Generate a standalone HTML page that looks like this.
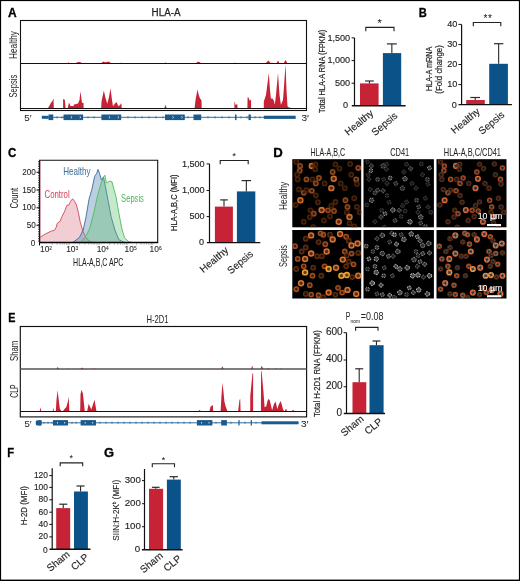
<!DOCTYPE html>
<html><head><meta charset="utf-8"><style>
html,body{margin:0;padding:0;background:#fff;}
svg{display:block;font-family:"Liberation Sans",sans-serif;will-change:transform;}
</style></head><body>
<svg width="520" height="581" viewBox="0 0 520 581">
<rect width="520" height="581" fill="#fff"/>
<text x="8.10" y="16.60" font-size="12.0" text-anchor="start" fill="#000" font-weight="bold" textLength="8.66" lengthAdjust="spacingAndGlyphs" stroke="#000" stroke-width="0.3" >A</text>
<text x="151.60" y="16.10" font-size="10.0" text-anchor="start" fill="#231f20" textLength="29.0" lengthAdjust="spacingAndGlyphs" stroke="#231f20" stroke-width="0.25" >HLA-A</text>
<polygon points="48.10,108.00 51.00,102.70 52.50,101.00 53.50,98.30 53.80,108.00" fill="#c72336" />
<polygon points="63.10,108.00 63.10,99.00 64.80,99.80 65.60,108.00 67.70,108.00 68.80,103.30 69.50,103.50 70.50,106.00 73.50,106.00 74.00,104.40 78.00,103.50 79.50,100.00 80.40,91.20 81.20,97.00 82.00,102.70 83.60,103.00 83.60,108.00" fill="#c72336" />
<polygon points="101.20,108.00 101.50,101.50 103.80,90.60 105.50,98.00 107.30,103.80 108.80,98.00 110.50,88.30 112.00,100.00 113.00,106.20 114.50,104.00 116.50,102.10 118.30,106.20 120.00,105.00 121.40,103.30 121.70,108.00" fill="#c72336" />
<polygon points="164.60,108.00 165.20,104.40 166.60,108.00" fill="#c72336" />
<polygon points="194.60,108.00 195.50,100.00 197.50,89.40 198.50,94.00 199.80,98.00 201.50,100.40 201.70,108.00" fill="#c72336" />
<polygon points="234.40,108.00 234.40,101.00 235.60,105.00 237.30,103.90 237.50,108.00" fill="#c72336" />
<polygon points="247.40,108.00 247.60,97.30 248.50,97.50 249.80,100.80 251.00,99.50 251.10,108.00" fill="#c72336" />
<polygon points="263.80,108.00 263.80,101.60 266.00,95.00 268.80,73.00 270.00,90.00 270.90,98.40 272.50,98.40 274.00,101.00 274.80,104.70 276.00,95.00 278.00,73.00 279.50,95.00 280.90,104.70 283.00,100.00 285.60,64.30 286.50,90.00 287.50,106.30 289.00,107.50 291.50,108.00" fill="#c72336" />
<polygon points="67.50,63.50 68.50,62.30 70.00,63.50" fill="#c72336" />
<polygon points="75.80,63.50 77.00,62.20 79.00,62.00 80.50,62.30 82.70,63.50" fill="#c72336" />
<polygon points="101.20,63.50 103.00,61.60 105.00,62.20 107.00,62.00 109.00,61.60 111.30,63.50" fill="#c72336" />
<polygon points="120.60,63.50 121.20,62.20 121.70,63.50" fill="#c72336" />
<polygon points="164.80,63.50 165.40,62.00 166.00,63.50" fill="#c72336" />
<polygon points="195.80,63.50 197.50,61.80 199.50,62.00 201.50,63.50" fill="#c72336" />
<polygon points="234.40,63.50 235.00,62.00 235.60,63.50" fill="#c72336" />
<polygon points="265.30,63.50 268.50,60.40 270.90,63.50 272.00,62.60 273.50,63.50" fill="#c72336" />
<polygon points="276.40,63.50 278.00,60.40 279.60,63.50 281.00,62.80 283.50,63.50" fill="#c72336" />
<polygon points="283.50,63.50 285.60,60.00 287.50,63.50" fill="#c72336" />
<rect x="20.5" y="20.5" width="286.0" height="90.0" fill="none" stroke="#111" stroke-width="1.1"/>
<line x1="20.5" y1="63.5" x2="306.5" y2="63.5" stroke="#111" stroke-width="1.0"/>
<line x1="20.5" y1="108.5" x2="306.5" y2="108.5" stroke="#111" stroke-width="1.0"/>
<text x="16.60" y="59.00" font-size="11" text-anchor="start" fill="#231f20" textLength="28.0" lengthAdjust="spacingAndGlyphs" transform="rotate(-90 16.60 59.00)" >Healthy</text>
<text x="16.60" y="97.40" font-size="11" text-anchor="start" fill="#231f20" textLength="22.6" lengthAdjust="spacingAndGlyphs" transform="rotate(-90 16.60 97.40)" >Sepsis</text>
<line x1="42" y1="117.3" x2="295.6" y2="117.3" stroke="#1b5a8c" stroke-width="0.9"/>
<line x1="57" y1="116.0" x2="57" y2="118.6" stroke="#1b5a8c" stroke-width="0.6"/>
<line x1="62" y1="116.0" x2="62" y2="118.6" stroke="#1b5a8c" stroke-width="0.6"/>
<line x1="88" y1="116.0" x2="88" y2="118.6" stroke="#1b5a8c" stroke-width="0.6"/>
<line x1="94" y1="116.0" x2="94" y2="118.6" stroke="#1b5a8c" stroke-width="0.6"/>
<line x1="128" y1="116.0" x2="128" y2="118.6" stroke="#1b5a8c" stroke-width="0.6"/>
<line x1="135" y1="116.0" x2="135" y2="118.6" stroke="#1b5a8c" stroke-width="0.6"/>
<line x1="142" y1="116.0" x2="142" y2="118.6" stroke="#1b5a8c" stroke-width="0.6"/>
<line x1="149" y1="116.0" x2="149" y2="118.6" stroke="#1b5a8c" stroke-width="0.6"/>
<line x1="156" y1="116.0" x2="156" y2="118.6" stroke="#1b5a8c" stroke-width="0.6"/>
<line x1="163" y1="116.0" x2="163" y2="118.6" stroke="#1b5a8c" stroke-width="0.6"/>
<line x1="188" y1="116.0" x2="188" y2="118.6" stroke="#1b5a8c" stroke-width="0.6"/>
<line x1="208" y1="116.0" x2="208" y2="118.6" stroke="#1b5a8c" stroke-width="0.6"/>
<line x1="215" y1="116.0" x2="215" y2="118.6" stroke="#1b5a8c" stroke-width="0.6"/>
<line x1="222" y1="116.0" x2="222" y2="118.6" stroke="#1b5a8c" stroke-width="0.6"/>
<line x1="229" y1="116.0" x2="229" y2="118.6" stroke="#1b5a8c" stroke-width="0.6"/>
<line x1="241" y1="116.0" x2="241" y2="118.6" stroke="#1b5a8c" stroke-width="0.6"/>
<line x1="247" y1="116.0" x2="247" y2="118.6" stroke="#1b5a8c" stroke-width="0.6"/>
<line x1="255" y1="116.0" x2="255" y2="118.6" stroke="#1b5a8c" stroke-width="0.6"/>
<line x1="260" y1="116.0" x2="260" y2="118.6" stroke="#1b5a8c" stroke-width="0.6"/>
<rect x="41.80" y="115.80" width="6.70" height="3.00" fill="#1b5a8c" />
<rect x="48.50" y="114.50" width="4.80" height="5.60" fill="#1b5a8c" />
<rect x="63.50" y="114.50" width="19.60" height="5.60" fill="#1b5a8c" />
<rect x="101.40" y="114.50" width="19.80" height="5.60" fill="#1b5a8c" />
<rect x="165.00" y="114.50" width="19.80" height="5.60" fill="#1b5a8c" />
<rect x="193.50" y="114.50" width="7.70" height="5.60" fill="#1b5a8c" />
<rect x="248.50" y="114.50" width="2.30" height="5.60" fill="#1b5a8c" />
<rect x="235.00" y="114.50" width="1.50" height="5.60" fill="#1b5a8c" />
<rect x="263.80" y="115.70" width="31.80" height="3.20" fill="#1b5a8c" />
<polyline points="70.836,116.3 72.036,117.3 70.836,118.3" fill="none" stroke="#fff" stroke-width="0.7"/>
<polyline points="79.65599999999999,116.3 80.856,117.3 79.65599999999999,118.3" fill="none" stroke="#fff" stroke-width="0.7"/>
<polyline points="108.818,116.3 110.018,117.3 108.818,118.3" fill="none" stroke="#fff" stroke-width="0.7"/>
<polyline points="117.728,116.3 118.928,117.3 117.728,118.3" fill="none" stroke="#fff" stroke-width="0.7"/>
<polyline points="172.418,116.3 173.618,117.3 172.418,118.3" fill="none" stroke="#fff" stroke-width="0.7"/>
<polyline points="181.32800000000003,116.3 182.52800000000002,117.3 181.32800000000003,118.3" fill="none" stroke="#fff" stroke-width="0.7"/>
<text x="24.20" y="120.90" font-size="9.4" text-anchor="start" fill="#231f20" textLength="7.3" lengthAdjust="spacingAndGlyphs" stroke="#231f20" stroke-width="0.05" >5&#8242;</text>
<text x="301.50" y="120.90" font-size="9.4" text-anchor="start" fill="#231f20" textLength="7.5" lengthAdjust="spacingAndGlyphs" stroke="#231f20" stroke-width="0.05" >3&#8242;</text>
<line x1="354.5" y1="37.9" x2="354.5" y2="105.7" stroke="#111" stroke-width="1.2"/>
<line x1="351.6" y1="37.9" x2="354.5" y2="37.9" stroke="#111" stroke-width="1.0"/>
<text x="350.20" y="40.50" font-size="9.6" text-anchor="end" fill="#231f20" textLength="22.82" lengthAdjust="spacingAndGlyphs" stroke="#231f20" stroke-width="0.15" >1,500</text>
<line x1="351.6" y1="60.6" x2="354.5" y2="60.6" stroke="#111" stroke-width="1.0"/>
<text x="350.20" y="63.20" font-size="9.6" text-anchor="end" fill="#231f20" textLength="22.82" lengthAdjust="spacingAndGlyphs" stroke="#231f20" stroke-width="0.15" >1,000</text>
<line x1="351.6" y1="83.2" x2="354.5" y2="83.2" stroke="#111" stroke-width="1.0"/>
<text x="350.20" y="85.80" font-size="9.6" text-anchor="end" fill="#231f20" textLength="15.22" lengthAdjust="spacingAndGlyphs" stroke="#231f20" stroke-width="0.15" >500</text>
<text x="348.00" y="108.00" font-size="9.6" text-anchor="end" fill="#231f20" textLength="5.07" lengthAdjust="spacingAndGlyphs" stroke="#231f20" stroke-width="0.15" >0</text>
<rect x="360.00" y="83.40" width="18.60" height="22.30" fill="#c72336" />
<line x1="369.45000000000005" y1="83.4" x2="369.45000000000005" y2="81.0" stroke="#2a2a2a" stroke-width="1.1"/>
<line x1="365.1" y1="81.0" x2="373.8" y2="81.0" stroke="#2a2a2a" stroke-width="1.2"/>
<rect x="382.90" y="53.10" width="18.30" height="52.60" fill="#0a5287" />
<line x1="391.85" y1="53.1" x2="391.85" y2="43.9" stroke="#2a2a2a" stroke-width="1.1"/>
<line x1="386.9" y1="43.9" x2="396.8" y2="43.9" stroke="#2a2a2a" stroke-width="1.2"/>
<line x1="351.8" y1="105.7" x2="405.6" y2="105.7" stroke="#111" stroke-width="1.4"/>
<polyline points="365.8,31.2 365.8,27.4 394,27.4 394,31.2" fill="none" stroke="#222" stroke-width="1.1"/>
<text x="379.80" y="26.75" font-size="11.2" text-anchor="middle" fill="#111" >*</text>
<text x="324.50" y="113.00" font-size="8.7" text-anchor="start" fill="#231f20" textLength="83.3" lengthAdjust="spacingAndGlyphs" transform="rotate(-90 324.50 113.00)" stroke="#231f20" stroke-width="0.2" >Total HLA-A RNA (FPKM)</text>
<text x="348.20" y="136.00" font-size="10.0" text-anchor="start" fill="#231f20" transform="rotate(-40 348.20 136.00)" stroke="#231f20" stroke-width="0.15" >Healthy</text>
<text x="375.10" y="136.20" font-size="10.0" text-anchor="start" fill="#231f20" transform="rotate(-40 375.10 136.20)" stroke="#231f20" stroke-width="0.15" >Sepsis</text>
<text x="418.65" y="16.70" font-size="12.0" text-anchor="start" fill="#000" font-weight="bold" textLength="8.06" lengthAdjust="spacingAndGlyphs" stroke="#000" stroke-width="0.3" >B</text>
<line x1="461.6" y1="24.4" x2="461.6" y2="104.6" stroke="#111" stroke-width="1.2"/>
<line x1="458.4" y1="24.4" x2="461.6" y2="24.4" stroke="#111" stroke-width="1.0"/>
<text x="457.30" y="27.00" font-size="9.6" text-anchor="end" fill="#231f20" textLength="10.14" lengthAdjust="spacingAndGlyphs" stroke="#231f20" stroke-width="0.15" >40</text>
<line x1="458.4" y1="44.6" x2="461.6" y2="44.6" stroke="#111" stroke-width="1.0"/>
<text x="457.30" y="47.20" font-size="9.6" text-anchor="end" fill="#231f20" textLength="10.14" lengthAdjust="spacingAndGlyphs" stroke="#231f20" stroke-width="0.15" >30</text>
<line x1="458.4" y1="64.5" x2="461.6" y2="64.5" stroke="#111" stroke-width="1.0"/>
<text x="457.30" y="67.10" font-size="9.6" text-anchor="end" fill="#231f20" textLength="10.14" lengthAdjust="spacingAndGlyphs" stroke="#231f20" stroke-width="0.15" >20</text>
<line x1="458.4" y1="84.6" x2="461.6" y2="84.6" stroke="#111" stroke-width="1.0"/>
<text x="457.30" y="87.20" font-size="9.6" text-anchor="end" fill="#231f20" textLength="10.14" lengthAdjust="spacingAndGlyphs" stroke="#231f20" stroke-width="0.15" >10</text>
<text x="456.90" y="108.40" font-size="9.6" text-anchor="end" fill="#231f20" textLength="5.07" lengthAdjust="spacingAndGlyphs" stroke="#231f20" stroke-width="0.15" >0</text>
<rect x="466.20" y="100.00" width="18.60" height="4.60" fill="#c72336" />
<line x1="475.2" y1="100.0" x2="475.2" y2="97.5" stroke="#2a2a2a" stroke-width="1.1"/>
<line x1="470.4" y1="97.5" x2="480.0" y2="97.5" stroke="#2a2a2a" stroke-width="1.2"/>
<rect x="489.20" y="63.80" width="18.70" height="40.80" fill="#0a5287" />
<line x1="498.65" y1="63.8" x2="498.65" y2="43.7" stroke="#2a2a2a" stroke-width="1.1"/>
<line x1="494.0" y1="43.7" x2="503.3" y2="43.7" stroke="#2a2a2a" stroke-width="1.2"/>
<line x1="458.5" y1="104.6" x2="511.9" y2="104.6" stroke="#111" stroke-width="1.4"/>
<polyline points="473.3,26.3 473.3,22.5 500.8,22.5 500.8,26.3" fill="none" stroke="#222" stroke-width="1.1"/>
<text x="485.40" y="21.93" font-size="10" text-anchor="middle" fill="#111" >*</text>
<text x="489.90" y="21.93" font-size="10" text-anchor="middle" fill="#111" >*</text>
<text x="432.40" y="91.10" font-size="8.9" text-anchor="start" fill="#231f20" textLength="44.4" lengthAdjust="spacingAndGlyphs" transform="rotate(-90 432.40 91.10)" stroke="#231f20" stroke-width="0.2" >HLA-A mRNA</text>
<text x="441.90" y="93.70" font-size="8.9" text-anchor="start" fill="#231f20" textLength="48.5" lengthAdjust="spacingAndGlyphs" transform="rotate(-90 441.90 93.70)" stroke="#231f20" stroke-width="0.2" >(Fold change)</text>
<text x="454.60" y="134.30" font-size="10.0" text-anchor="start" fill="#231f20" transform="rotate(-40 454.60 134.30)" stroke="#231f20" stroke-width="0.15" >Healthy</text>
<text x="482.10" y="135.00" font-size="10.0" text-anchor="start" fill="#231f20" transform="rotate(-40 482.10 135.00)" stroke="#231f20" stroke-width="0.15" >Sepsis</text>
<text x="7.93" y="157.00" font-size="12.0" text-anchor="start" fill="#000" font-weight="bold" textLength="8.32" lengthAdjust="spacingAndGlyphs" stroke="#000" stroke-width="0.3" >C</text>
<polygon points="39.5,242.6 39.5,237.7 45.7,233.8 51.5,231 54.3,230.4 56.3,227.1 57.2,223.3 60.1,221.3 62,216.5 64.9,210.8 66.8,205.4 68.8,205 70.7,201.2 72.6,198.8 74.5,201.2 76.5,205 78.4,212.7 80.3,222.3 83.2,231.9 86.1,237.7 89.9,241.5 93.8,242.6" fill="#e8a5b0" fill-opacity="0.55" stroke="#d2455e" stroke-width="0.9"/>
<polygon points="72.6,242.6 79.3,237.7 83.2,230 86.1,216.5 89,199.2 91.8,189.6 94.7,176.2 96.7,173.3 98,169.4 99.5,173.3 101.5,180 103.4,177.1 105.3,185.8 108.2,201.2 111.1,216.5 114.9,230 118.8,239.6 124.5,242.6" fill="#6b92b8" fill-opacity="0.45" stroke="#3a6d9c" stroke-width="0.9"/>
<polygon points="80.3,242.6 86.1,235.8 89.9,228.1 93.8,212.7 97.6,195.4 101.5,181.9 103.4,177.1 104.9,175.2 106.3,182.9 108.2,181.9 110.1,181 112,181.9 114,189.6 115.9,196.3 118.8,212.7 121.7,228.1 124.5,237.7 128.4,241.5 132.2,242.6" fill="#5cbf6e" fill-opacity="0.35" stroke="#4cbb5c" stroke-width="0.9"/>
<line x1="40.4" y1="161" x2="40.4" y2="242.6" stroke="#e68a9a" stroke-width="0.6"/>
<polyline points="39.6,242.6 39.6,160.2 157.7,160.2 157.7,242.6" fill="none" stroke="#111" stroke-width="1.1"/>
<line x1="39.5" y1="242.6" x2="158.2" y2="242.6" stroke="#000" stroke-width="1.5"/>
<line x1="36.5" y1="172.3" x2="39.5" y2="172.3" stroke="#000" stroke-width="1.0"/>
<text x="35.90" y="174.90" font-size="9.6" text-anchor="end" fill="#231f20" textLength="13.61" lengthAdjust="spacingAndGlyphs" stroke="#231f20" stroke-width="0.1" >200</text>
<line x1="36.5" y1="190.0" x2="39.5" y2="190.0" stroke="#000" stroke-width="1.0"/>
<text x="35.90" y="192.60" font-size="9.6" text-anchor="end" fill="#231f20" textLength="13.61" lengthAdjust="spacingAndGlyphs" stroke="#231f20" stroke-width="0.1" >150</text>
<line x1="36.5" y1="207.8" x2="39.5" y2="207.8" stroke="#000" stroke-width="1.0"/>
<text x="35.90" y="210.40" font-size="9.6" text-anchor="end" fill="#231f20" textLength="13.61" lengthAdjust="spacingAndGlyphs" stroke="#231f20" stroke-width="0.1" >100</text>
<line x1="36.5" y1="225.2" x2="39.5" y2="225.2" stroke="#000" stroke-width="1.0"/>
<text x="35.90" y="227.80" font-size="9.6" text-anchor="end" fill="#231f20" textLength="9.08" lengthAdjust="spacingAndGlyphs" stroke="#231f20" stroke-width="0.1" >50</text>
<text x="35.30" y="246.20" font-size="9.6" text-anchor="end" fill="#231f20" textLength="4.54" lengthAdjust="spacingAndGlyphs" stroke="#231f20" stroke-width="0.1" >0</text>
<line x1="39.5" y1="242.6" x2="39.5" y2="245.4" stroke="#000" stroke-width="1.0"/>
<line x1="38.6" y1="161" x2="38.6" y2="242" stroke="#333" stroke-width="1.1" stroke-dasharray="0.7 1.05"/>
<line x1="52.32677988726351" y1="243.2" x2="52.32677988726351" y2="244.6" stroke="#777" stroke-width="0.7"/>
<line x1="56.90515262271123" y1="243.2" x2="56.90515262271123" y2="244.6" stroke="#777" stroke-width="0.7"/>
<line x1="60.153559774527025" y1="243.2" x2="60.153559774527025" y2="244.6" stroke="#777" stroke-width="0.7"/>
<line x1="62.67322011273649" y1="243.2" x2="62.67322011273649" y2="244.6" stroke="#777" stroke-width="0.7"/>
<line x1="64.73193250997474" y1="243.2" x2="64.73193250997474" y2="244.6" stroke="#777" stroke-width="0.7"/>
<line x1="66.47254904037068" y1="243.2" x2="66.47254904037068" y2="244.6" stroke="#777" stroke-width="0.7"/>
<line x1="67.98033966179054" y1="243.2" x2="67.98033966179054" y2="244.6" stroke="#777" stroke-width="0.7"/>
<line x1="69.31030524542246" y1="243.2" x2="69.31030524542246" y2="244.6" stroke="#777" stroke-width="0.7"/>
<line x1="79.68141486775143" y1="243.2" x2="79.68141486775143" y2="244.6" stroke="#777" stroke-width="0.7"/>
<line x1="85.05219826894971" y1="243.2" x2="85.05219826894971" y2="244.6" stroke="#777" stroke-width="0.7"/>
<line x1="88.86282973550286" y1="243.2" x2="88.86282973550286" y2="244.6" stroke="#777" stroke-width="0.7"/>
<line x1="91.81858513224857" y1="243.2" x2="91.81858513224857" y2="244.6" stroke="#777" stroke-width="0.7"/>
<line x1="94.23361313670114" y1="243.2" x2="94.23361313670114" y2="244.6" stroke="#777" stroke-width="0.7"/>
<line x1="96.27549022043483" y1="243.2" x2="96.27549022043483" y2="244.6" stroke="#777" stroke-width="0.7"/>
<line x1="98.04424460325427" y1="243.2" x2="98.04424460325427" y2="244.6" stroke="#777" stroke-width="0.7"/>
<line x1="99.6043965378994" y1="243.2" x2="99.6043965378994" y2="244.6" stroke="#777" stroke-width="0.7"/>
<line x1="109.42883987859148" y1="243.2" x2="109.42883987859148" y2="244.6" stroke="#777" stroke-width="0.7"/>
<line x1="114.35939513215055" y1="243.2" x2="114.35939513215055" y2="244.6" stroke="#777" stroke-width="0.7"/>
<line x1="117.85767975718295" y1="243.2" x2="117.85767975718295" y2="244.6" stroke="#777" stroke-width="0.7"/>
<line x1="120.57116012140852" y1="243.2" x2="120.57116012140852" y2="244.6" stroke="#777" stroke-width="0.7"/>
<line x1="122.78823501074203" y1="243.2" x2="122.78823501074203" y2="244.6" stroke="#777" stroke-width="0.7"/>
<line x1="124.6627451203992" y1="243.2" x2="124.6627451203992" y2="244.6" stroke="#777" stroke-width="0.7"/>
<line x1="126.28651963577443" y1="243.2" x2="126.28651963577443" y2="244.6" stroke="#777" stroke-width="0.7"/>
<line x1="127.71879026430109" y1="243.2" x2="127.71879026430109" y2="244.6" stroke="#777" stroke-width="0.7"/>
<line x1="136.52574989159953" y1="243.2" x2="136.52574989159953" y2="244.6" stroke="#777" stroke-width="0.7"/>
<line x1="140.92803136799157" y1="243.2" x2="140.92803136799157" y2="244.6" stroke="#777" stroke-width="0.7"/>
<line x1="144.05149978319906" y1="243.2" x2="144.05149978319906" y2="244.6" stroke="#777" stroke-width="0.7"/>
<line x1="146.47425010840047" y1="243.2" x2="146.47425010840047" y2="244.6" stroke="#777" stroke-width="0.7"/>
<line x1="148.4537812595911" y1="243.2" x2="148.4537812595911" y2="244.6" stroke="#777" stroke-width="0.7"/>
<line x1="150.12745100035642" y1="243.2" x2="150.12745100035642" y2="244.6" stroke="#777" stroke-width="0.7"/>
<line x1="151.5772496747986" y1="243.2" x2="151.5772496747986" y2="244.6" stroke="#777" stroke-width="0.7"/>
<line x1="152.85606273598313" y1="243.2" x2="152.85606273598313" y2="244.6" stroke="#777" stroke-width="0.7"/>
<text x="40.00" y="252.30" font-size="8.4" text-anchor="start" fill="#231f20" stroke="#231f20" stroke-width="0.08" >10<tspan font-size="4.8" dy="-2.6">2</tspan></text>
<text x="66.20" y="252.30" font-size="8.4" text-anchor="start" fill="#231f20" stroke="#231f20" stroke-width="0.08" >10<tspan font-size="4.8" dy="-2.6">3</tspan></text>
<text x="96.70" y="252.30" font-size="8.4" text-anchor="start" fill="#231f20" stroke="#231f20" stroke-width="0.08" >10<tspan font-size="4.8" dy="-2.6">4</tspan></text>
<text x="124.60" y="252.30" font-size="8.4" text-anchor="start" fill="#231f20" stroke="#231f20" stroke-width="0.08" >10<tspan font-size="4.8" dy="-2.6">5</tspan></text>
<text x="149.60" y="252.30" font-size="8.4" text-anchor="start" fill="#231f20" stroke="#231f20" stroke-width="0.08" >10<tspan font-size="4.8" dy="-2.6">6</tspan></text>
<text x="73.10" y="265.50" font-size="10.6" text-anchor="start" fill="#231f20" textLength="50.3" lengthAdjust="spacingAndGlyphs" stroke="#231f20" stroke-width="0.05" >HLA-A,B,C APC</text>
<text x="18.00" y="208.60" font-size="10.5" text-anchor="start" fill="#231f20" textLength="20.8" lengthAdjust="spacingAndGlyphs" transform="rotate(-90 18.00 208.60)" stroke="#231f20" stroke-width="0.05" >Count</text>
<text x="63.30" y="175.40" font-size="11.3" text-anchor="start" fill="#3e72a4" textLength="27.3" lengthAdjust="spacingAndGlyphs" stroke="#3e72a4" stroke-width="0.03" >Healthy</text>
<text x="44.50" y="197.90" font-size="11.3" text-anchor="start" fill="#d2455e" textLength="25.2" lengthAdjust="spacingAndGlyphs" stroke="#d2455e" stroke-width="0.03" >Control</text>
<text x="121.10" y="201.70" font-size="11.3" text-anchor="start" fill="#4cb85a" textLength="22.8" lengthAdjust="spacingAndGlyphs" stroke="#4cb85a" stroke-width="0.03" >Sepsis</text>
<line x1="209.5" y1="163.9" x2="209.5" y2="242.6" stroke="#111" stroke-width="1.2"/>
<line x1="206.6" y1="163.9" x2="209.5" y2="163.9" stroke="#111" stroke-width="1.0"/>
<text x="204.70" y="166.50" font-size="9.6" text-anchor="end" fill="#231f20" textLength="22.82" lengthAdjust="spacingAndGlyphs" stroke="#231f20" stroke-width="0.15" >1,500</text>
<line x1="206.6" y1="190.5" x2="209.5" y2="190.5" stroke="#111" stroke-width="1.0"/>
<text x="204.70" y="193.10" font-size="9.6" text-anchor="end" fill="#231f20" textLength="22.82" lengthAdjust="spacingAndGlyphs" stroke="#231f20" stroke-width="0.15" >1,000</text>
<line x1="206.6" y1="216.6" x2="209.5" y2="216.6" stroke="#111" stroke-width="1.0"/>
<text x="204.70" y="219.20" font-size="9.6" text-anchor="end" fill="#231f20" textLength="15.22" lengthAdjust="spacingAndGlyphs" stroke="#231f20" stroke-width="0.15" >500</text>
<text x="204.00" y="244.70" font-size="9.6" text-anchor="end" fill="#231f20" textLength="5.07" lengthAdjust="spacingAndGlyphs" stroke="#231f20" stroke-width="0.15" >0</text>
<rect x="214.90" y="206.60" width="18.00" height="36.00" fill="#c72336" />
<line x1="224.0" y1="206.6" x2="224.0" y2="199.9" stroke="#2a2a2a" stroke-width="1.1"/>
<line x1="220.2" y1="199.9" x2="227.8" y2="199.9" stroke="#2a2a2a" stroke-width="1.2"/>
<rect x="236.90" y="191.40" width="18.40" height="51.20" fill="#0a5287" />
<line x1="246.35" y1="191.4" x2="246.35" y2="180.6" stroke="#2a2a2a" stroke-width="1.1"/>
<line x1="241.6" y1="180.6" x2="251.1" y2="180.6" stroke="#2a2a2a" stroke-width="1.2"/>
<line x1="206.9" y1="242.6" x2="260.3" y2="242.6" stroke="#111" stroke-width="1.4"/>
<polyline points="220.2,164.3 220.2,160.5 248.2,160.5 248.2,164.3" fill="none" stroke="#222" stroke-width="1.1"/>
<text x="234.10" y="159.03" font-size="9.8" text-anchor="middle" fill="#111" >*</text>
<text x="177.40" y="231.00" font-size="8.4" text-anchor="start" fill="#231f20" textLength="56.5" lengthAdjust="spacingAndGlyphs" transform="rotate(-90 177.40 231.00)" stroke="#231f20" stroke-width="0.2" >HLA-A,B,C (MFI)</text>
<text x="203.20" y="273.20" font-size="10.0" text-anchor="start" fill="#231f20" transform="rotate(-40 203.20 273.20)" stroke="#231f20" stroke-width="0.15" >Healthy</text>
<text x="230.80" y="274.40" font-size="10.0" text-anchor="start" fill="#231f20" transform="rotate(-40 230.80 274.40)" stroke="#231f20" stroke-width="0.15" >Sepsis</text>
<text x="273.32" y="157.10" font-size="12.0" text-anchor="start" fill="#000" font-weight="bold" textLength="9.53" lengthAdjust="spacingAndGlyphs" stroke="#000" stroke-width="0.3" >D</text>
<text x="310.40" y="155.50" font-size="10.3" text-anchor="start" fill="#231f20" textLength="34.8" lengthAdjust="spacingAndGlyphs" stroke="#231f20" stroke-width="0.05" >HLA-A,B,C</text>
<text x="390.20" y="155.60" font-size="10.3" text-anchor="start" fill="#231f20" textLength="19" lengthAdjust="spacingAndGlyphs" stroke="#231f20" stroke-width="0.05" >CD41</text>
<text x="443.80" y="155.50" font-size="10.3" text-anchor="start" fill="#231f20" textLength="57.2" lengthAdjust="spacingAndGlyphs" stroke="#231f20" stroke-width="0.05" >HLA-A,B,C/CD41</text>
<text x="287.40" y="210.00" font-size="11" text-anchor="start" fill="#231f20" textLength="28.3" lengthAdjust="spacingAndGlyphs" transform="rotate(-90 287.40 210.00)" >Healthy</text>
<text x="287.40" y="267.00" font-size="11" text-anchor="start" fill="#231f20" textLength="22" lengthAdjust="spacingAndGlyphs" transform="rotate(-90 287.40 267.00)" >Sepsis</text>
<defs><filter id="bl" x="-5%" y="-5%" width="110%" height="110%"><feGaussianBlur stdDeviation="0.55"/></filter>
<clipPath id="c00"><rect x="292.3" y="159.2" width="68.89999999999998" height="68.10000000000002"/></clipPath>
<clipPath id="c01"><rect x="363.5" y="159.2" width="70.39999999999998" height="68.10000000000002"/></clipPath>
<clipPath id="c02"><rect x="436.5" y="159.2" width="70.0" height="68.10000000000002"/></clipPath>
<clipPath id="c10"><rect x="292.3" y="230.0" width="68.89999999999998" height="68.5"/></clipPath>
<clipPath id="c11"><rect x="363.5" y="230.0" width="70.39999999999998" height="68.5"/></clipPath>
<clipPath id="c12"><rect x="436.5" y="230.0" width="70.0" height="68.5"/></clipPath>
</defs>
<rect x="292.3" y="159.2" width="68.89999999999998" height="68.10000000000002" fill="#000"/>
<g clip-path="url(#c00)"><g filter="url(#bl)"><circle cx="296.34" cy="161.89" r="2.15" fill="#4a2209" fill-opacity="0.38" stroke="#4a2209" stroke-width="1.55"/><circle cx="300.11" cy="165.93" r="2.15" fill="#92461b" fill-opacity="0.38" stroke="#92461b" stroke-width="1.55"/><circle cx="299.70" cy="170.64" r="2.15" fill="#92461b" fill-opacity="0.38" stroke="#92461b" stroke-width="1.55"/><circle cx="297.01" cy="174.68" r="2.15" fill="#4a2209" fill-opacity="0.38" stroke="#4a2209" stroke-width="1.55"/><circle cx="297.68" cy="179.39" r="2.15" fill="#4a2209" fill-opacity="0.38" stroke="#4a2209" stroke-width="1.55"/><circle cx="311.82" cy="165.93" r="2.45" fill="#d06a2a" fill-opacity="0.38" stroke="#d06a2a" stroke-width="1.55"/><circle cx="315.45" cy="164.31" r="2.15" fill="#4a2209" fill-opacity="0.38" stroke="#4a2209" stroke-width="1.55"/><circle cx="315.18" cy="169.29" r="2.15" fill="#4a2209" fill-opacity="0.38" stroke="#4a2209" stroke-width="1.55"/><circle cx="306.43" cy="179.39" r="2.15" fill="#92461b" fill-opacity="0.38" stroke="#92461b" stroke-width="1.55"/><circle cx="312.49" cy="179.39" r="2.15" fill="#4a2209" fill-opacity="0.38" stroke="#4a2209" stroke-width="1.55"/><circle cx="315.85" cy="183.43" r="2.15" fill="#92461b" fill-opacity="0.38" stroke="#92461b" stroke-width="1.55"/><circle cx="318.95" cy="178.04" r="2.15" fill="#92461b" fill-opacity="0.38" stroke="#92461b" stroke-width="1.55"/><circle cx="324.60" cy="183.43" r="2.15" fill="#4a2209" fill-opacity="0.38" stroke="#4a2209" stroke-width="1.55"/><circle cx="332.68" cy="171.99" r="2.15" fill="#92461b" fill-opacity="0.38" stroke="#92461b" stroke-width="1.55"/><circle cx="333.75" cy="178.72" r="2.45" fill="#d06a2a" fill-opacity="0.38" stroke="#d06a2a" stroke-width="1.55"/><circle cx="335.37" cy="164.31" r="2.15" fill="#4a2209" fill-opacity="0.38" stroke="#4a2209" stroke-width="1.55"/><circle cx="339.41" cy="168.62" r="2.15" fill="#4a2209" fill-opacity="0.38" stroke="#4a2209" stroke-width="1.55"/><circle cx="331.33" cy="188.14" r="2.45" fill="#d06a2a" fill-opacity="0.38" stroke="#d06a2a" stroke-width="1.55"/><circle cx="340.75" cy="183.43" r="2.15" fill="#4a2209" fill-opacity="0.38" stroke="#4a2209" stroke-width="1.55"/><circle cx="344.79" cy="188.14" r="2.15" fill="#4a2209" fill-opacity="0.38" stroke="#4a2209" stroke-width="1.55"/><circle cx="350.17" cy="163.91" r="2.15" fill="#4a2209" fill-opacity="0.38" stroke="#4a2209" stroke-width="1.55"/><circle cx="358.25" cy="167.95" r="2.15" fill="#92461b" fill-opacity="0.38" stroke="#92461b" stroke-width="1.55"/><circle cx="351.25" cy="174.68" r="2.15" fill="#4a2209" fill-opacity="0.38" stroke="#4a2209" stroke-width="1.55"/><circle cx="356.23" cy="179.39" r="2.15" fill="#92461b" fill-opacity="0.38" stroke="#92461b" stroke-width="1.55"/><circle cx="356.90" cy="184.10" r="2.15" fill="#4a2209" fill-opacity="0.38" stroke="#4a2209" stroke-width="1.55"/><circle cx="299.03" cy="189.48" r="2.15" fill="#4a2209" fill-opacity="0.38" stroke="#4a2209" stroke-width="1.55"/><circle cx="303.74" cy="192.85" r="2.15" fill="#92461b" fill-opacity="0.38" stroke="#92461b" stroke-width="1.55"/><circle cx="306.43" cy="190.16" r="2.15" fill="#4a2209" fill-opacity="0.38" stroke="#4a2209" stroke-width="1.55"/><circle cx="311.82" cy="190.83" r="2.15" fill="#92461b" fill-opacity="0.38" stroke="#92461b" stroke-width="1.55"/><circle cx="315.85" cy="195.54" r="2.15" fill="#4a2209" fill-opacity="0.38" stroke="#4a2209" stroke-width="1.55"/><circle cx="317.87" cy="202.27" r="2.15" fill="#4a2209" fill-opacity="0.38" stroke="#4a2209" stroke-width="1.55"/><circle cx="300.38" cy="200.25" r="2.45" fill="#d06a2a" fill-opacity="0.38" stroke="#d06a2a" stroke-width="1.55"/><circle cx="295.66" cy="204.96" r="2.15" fill="#4a2209" fill-opacity="0.38" stroke="#4a2209" stroke-width="1.55"/><circle cx="321.64" cy="210.07" r="2.45" fill="#d06a2a" fill-opacity="0.38" stroke="#d06a2a" stroke-width="1.55"/><circle cx="327.97" cy="210.34" r="2.15" fill="#92461b" fill-opacity="0.38" stroke="#92461b" stroke-width="1.55"/><circle cx="334.02" cy="211.02" r="2.15" fill="#92461b" fill-opacity="0.38" stroke="#92461b" stroke-width="1.55"/><circle cx="335.37" cy="202.00" r="2.15" fill="#4a2209" fill-opacity="0.38" stroke="#4a2209" stroke-width="1.55"/><circle cx="331.33" cy="205.63" r="2.15" fill="#4a2209" fill-opacity="0.38" stroke="#4a2209" stroke-width="1.55"/><circle cx="310.47" cy="210.34" r="2.15" fill="#4a2209" fill-opacity="0.38" stroke="#4a2209" stroke-width="1.55"/><circle cx="313.83" cy="213.71" r="2.15" fill="#92461b" fill-opacity="0.38" stroke="#92461b" stroke-width="1.55"/><circle cx="309.80" cy="217.07" r="2.15" fill="#4a2209" fill-opacity="0.38" stroke="#4a2209" stroke-width="1.55"/><circle cx="329.99" cy="216.40" r="2.15" fill="#4a2209" fill-opacity="0.38" stroke="#4a2209" stroke-width="1.55"/><circle cx="323.93" cy="220.44" r="2.15" fill="#4a2209" fill-opacity="0.38" stroke="#4a2209" stroke-width="1.55"/><circle cx="338.73" cy="221.78" r="2.45" fill="#d06a2a" fill-opacity="0.38" stroke="#d06a2a" stroke-width="1.55"/><circle cx="345.46" cy="200.25" r="2.15" fill="#92461b" fill-opacity="0.38" stroke="#92461b" stroke-width="1.55"/><circle cx="347.48" cy="206.98" r="2.15" fill="#92461b" fill-opacity="0.38" stroke="#92461b" stroke-width="1.55"/><circle cx="346.81" cy="212.36" r="2.15" fill="#4a2209" fill-opacity="0.38" stroke="#4a2209" stroke-width="1.55"/><circle cx="349.50" cy="217.07" r="2.45" fill="#d06a2a" fill-opacity="0.38" stroke="#d06a2a" stroke-width="1.55"/><circle cx="354.21" cy="198.23" r="2.15" fill="#4a2209" fill-opacity="0.38" stroke="#4a2209" stroke-width="1.55"/><circle cx="356.90" cy="206.98" r="2.15" fill="#4a2209" fill-opacity="0.38" stroke="#4a2209" stroke-width="1.55"/><circle cx="359.59" cy="212.36" r="2.15" fill="#4a2209" fill-opacity="0.38" stroke="#4a2209" stroke-width="1.55"/><circle cx="349.50" cy="223.13" r="2.15" fill="#4a2209" fill-opacity="0.38" stroke="#4a2209" stroke-width="1.55"/><circle cx="303.74" cy="221.78" r="2.15" fill="#4a2209" fill-opacity="0.38" stroke="#4a2209" stroke-width="1.55"/><circle cx="354.21" cy="226.49" r="2.15" fill="#4a2209" fill-opacity="0.38" stroke="#4a2209" stroke-width="1.55"/><circle cx="313.16" cy="227.17" r="2.15" fill="#4a2209" fill-opacity="0.38" stroke="#4a2209" stroke-width="1.55"/></g></g>
<rect x="363.5" y="159.2" width="70.39999999999998" height="68.10000000000002" fill="#000"/>
<g clip-path="url(#c01)"><g filter="url(#bl)"><circle cx="367.54" cy="161.89" r="1.95" fill="#505050" fill-opacity="0.3" stroke="#505050" stroke-width="1.0" stroke-dasharray="1.8 0.9" stroke-dashoffset="0" stroke-opacity="0.9"/><circle cx="371.31" cy="165.93" r="1.95" fill="#7c7c7c" fill-opacity="0.3" stroke="#7c7c7c" stroke-width="1.0" stroke-dasharray="1.8 0.9" stroke-dashoffset="1" stroke-opacity="0.9"/><circle cx="370.90" cy="170.64" r="1.95" fill="#acacac" fill-opacity="0.3" stroke="#acacac" stroke-width="1.0" stroke-dasharray="1.8 0.9" stroke-dashoffset="2" stroke-opacity="0.9"/><circle cx="368.21" cy="174.68" r="1.95" fill="#505050" fill-opacity="0.3" stroke="#505050" stroke-width="1.0" stroke-dasharray="1.8 0.9" stroke-dashoffset="0" stroke-opacity="0.9"/><circle cx="368.88" cy="179.39" r="1.95" fill="#505050" fill-opacity="0.3" stroke="#505050" stroke-width="1.0" stroke-dasharray="1.8 0.9" stroke-dashoffset="1" stroke-opacity="0.9"/><circle cx="383.02" cy="165.93" r="2.25" fill="#7c7c7c" fill-opacity="0.3" stroke="#7c7c7c" stroke-width="1.0" stroke-dasharray="1.8 0.9" stroke-dashoffset="2" stroke-opacity="0.9"/><circle cx="386.65" cy="164.31" r="1.95" fill="#505050" fill-opacity="0.3" stroke="#505050" stroke-width="1.0" stroke-dasharray="1.8 0.9" stroke-dashoffset="0" stroke-opacity="0.9"/><circle cx="386.38" cy="169.29" r="1.95" fill="#505050" fill-opacity="0.3" stroke="#505050" stroke-width="1.0" stroke-dasharray="1.8 0.9" stroke-dashoffset="1" stroke-opacity="0.9"/><circle cx="377.63" cy="179.39" r="1.95" fill="#7c7c7c" fill-opacity="0.3" stroke="#7c7c7c" stroke-width="1.0" stroke-dasharray="1.8 0.9" stroke-dashoffset="2" stroke-opacity="0.9"/><circle cx="383.69" cy="179.39" r="1.95" fill="#505050" fill-opacity="0.3" stroke="#505050" stroke-width="1.0" stroke-dasharray="1.8 0.9" stroke-dashoffset="0" stroke-opacity="0.9"/><circle cx="387.05" cy="183.43" r="1.95" fill="#505050" fill-opacity="0.3" stroke="#505050" stroke-width="1.0" stroke-dasharray="1.8 0.9" stroke-dashoffset="1" stroke-opacity="0.9"/><circle cx="390.15" cy="178.04" r="1.95" fill="#acacac" fill-opacity="0.3" stroke="#acacac" stroke-width="1.0" stroke-dasharray="1.8 0.9" stroke-dashoffset="2" stroke-opacity="0.9"/><circle cx="395.80" cy="183.43" r="1.95" fill="#7c7c7c" fill-opacity="0.3" stroke="#7c7c7c" stroke-width="1.0" stroke-dasharray="1.8 0.9" stroke-dashoffset="0" stroke-opacity="0.9"/><circle cx="403.88" cy="171.99" r="1.95" fill="#505050" fill-opacity="0.3" stroke="#505050" stroke-width="1.0" stroke-dasharray="1.8 0.9" stroke-dashoffset="1" stroke-opacity="0.9"/><circle cx="404.95" cy="178.72" r="2.25" fill="#acacac" fill-opacity="0.3" stroke="#acacac" stroke-width="1.0" stroke-dasharray="1.8 0.9" stroke-dashoffset="2" stroke-opacity="0.9"/><circle cx="406.57" cy="164.31" r="1.95" fill="#505050" fill-opacity="0.3" stroke="#505050" stroke-width="1.0" stroke-dasharray="1.8 0.9" stroke-dashoffset="0" stroke-opacity="0.9"/><circle cx="410.61" cy="168.62" r="1.95" fill="#7c7c7c" fill-opacity="0.3" stroke="#7c7c7c" stroke-width="1.0" stroke-dasharray="1.8 0.9" stroke-dashoffset="1" stroke-opacity="0.9"/><circle cx="402.53" cy="188.14" r="2.25" fill="#7c7c7c" fill-opacity="0.3" stroke="#7c7c7c" stroke-width="1.0" stroke-dasharray="1.8 0.9" stroke-dashoffset="2" stroke-opacity="0.9"/><circle cx="411.95" cy="183.43" r="1.95" fill="#505050" fill-opacity="0.3" stroke="#505050" stroke-width="1.0" stroke-dasharray="1.8 0.9" stroke-dashoffset="0" stroke-opacity="0.9"/><circle cx="415.99" cy="188.14" r="1.95" fill="#505050" fill-opacity="0.3" stroke="#505050" stroke-width="1.0" stroke-dasharray="1.8 0.9" stroke-dashoffset="1" stroke-opacity="0.9"/><circle cx="421.37" cy="163.91" r="1.95" fill="#505050" fill-opacity="0.3" stroke="#505050" stroke-width="1.0" stroke-dasharray="1.8 0.9" stroke-dashoffset="2" stroke-opacity="0.9"/><circle cx="429.45" cy="167.95" r="1.95" fill="#acacac" fill-opacity="0.3" stroke="#acacac" stroke-width="1.0" stroke-dasharray="1.8 0.9" stroke-dashoffset="0" stroke-opacity="0.9"/><circle cx="422.45" cy="174.68" r="1.95" fill="#505050" fill-opacity="0.3" stroke="#505050" stroke-width="1.0" stroke-dasharray="1.8 0.9" stroke-dashoffset="1" stroke-opacity="0.9"/><circle cx="427.43" cy="179.39" r="1.95" fill="#7c7c7c" fill-opacity="0.3" stroke="#7c7c7c" stroke-width="1.0" stroke-dasharray="1.8 0.9" stroke-dashoffset="2" stroke-opacity="0.9"/><circle cx="428.10" cy="184.10" r="1.95" fill="#505050" fill-opacity="0.3" stroke="#505050" stroke-width="1.0" stroke-dasharray="1.8 0.9" stroke-dashoffset="0" stroke-opacity="0.9"/><circle cx="370.23" cy="189.48" r="1.95" fill="#505050" fill-opacity="0.3" stroke="#505050" stroke-width="1.0" stroke-dasharray="1.8 0.9" stroke-dashoffset="1" stroke-opacity="0.9"/><circle cx="374.94" cy="192.85" r="1.95" fill="#7c7c7c" fill-opacity="0.3" stroke="#7c7c7c" stroke-width="1.0" stroke-dasharray="1.8 0.9" stroke-dashoffset="2" stroke-opacity="0.9"/><circle cx="377.63" cy="190.16" r="1.95" fill="#7c7c7c" fill-opacity="0.3" stroke="#7c7c7c" stroke-width="1.0" stroke-dasharray="1.8 0.9" stroke-dashoffset="0" stroke-opacity="0.9"/><circle cx="383.02" cy="190.83" r="1.95" fill="#7c7c7c" fill-opacity="0.3" stroke="#7c7c7c" stroke-width="1.0" stroke-dasharray="1.8 0.9" stroke-dashoffset="1" stroke-opacity="0.9"/><circle cx="387.05" cy="195.54" r="1.95" fill="#505050" fill-opacity="0.3" stroke="#505050" stroke-width="1.0" stroke-dasharray="1.8 0.9" stroke-dashoffset="2" stroke-opacity="0.9"/><circle cx="389.07" cy="202.27" r="1.95" fill="#505050" fill-opacity="0.3" stroke="#505050" stroke-width="1.0" stroke-dasharray="1.8 0.9" stroke-dashoffset="0" stroke-opacity="0.9"/><circle cx="371.58" cy="200.25" r="2.25" fill="#acacac" fill-opacity="0.3" stroke="#acacac" stroke-width="1.0" stroke-dasharray="1.8 0.9" stroke-dashoffset="1" stroke-opacity="0.9"/><circle cx="366.86" cy="204.96" r="1.95" fill="#505050" fill-opacity="0.3" stroke="#505050" stroke-width="1.0" stroke-dasharray="1.8 0.9" stroke-dashoffset="2" stroke-opacity="0.9"/><circle cx="392.84" cy="210.07" r="2.25" fill="#acacac" fill-opacity="0.3" stroke="#acacac" stroke-width="1.0" stroke-dasharray="1.8 0.9" stroke-dashoffset="0" stroke-opacity="0.9"/><circle cx="399.17" cy="210.34" r="1.95" fill="#7c7c7c" fill-opacity="0.3" stroke="#7c7c7c" stroke-width="1.0" stroke-dasharray="1.8 0.9" stroke-dashoffset="1" stroke-opacity="0.9"/><circle cx="405.22" cy="211.02" r="1.95" fill="#505050" fill-opacity="0.3" stroke="#505050" stroke-width="1.0" stroke-dasharray="1.8 0.9" stroke-dashoffset="2" stroke-opacity="0.9"/><circle cx="406.57" cy="202.00" r="1.95" fill="#505050" fill-opacity="0.3" stroke="#505050" stroke-width="1.0" stroke-dasharray="1.8 0.9" stroke-dashoffset="0" stroke-opacity="0.9"/><circle cx="402.53" cy="205.63" r="1.95" fill="#505050" fill-opacity="0.3" stroke="#505050" stroke-width="1.0" stroke-dasharray="1.8 0.9" stroke-dashoffset="1" stroke-opacity="0.9"/><circle cx="381.67" cy="210.34" r="1.95" fill="#505050" fill-opacity="0.3" stroke="#505050" stroke-width="1.0" stroke-dasharray="1.8 0.9" stroke-dashoffset="2" stroke-opacity="0.9"/><circle cx="385.03" cy="213.71" r="1.95" fill="#acacac" fill-opacity="0.3" stroke="#acacac" stroke-width="1.0" stroke-dasharray="1.8 0.9" stroke-dashoffset="0" stroke-opacity="0.9"/><circle cx="381.00" cy="217.07" r="1.95" fill="#7c7c7c" fill-opacity="0.3" stroke="#7c7c7c" stroke-width="1.0" stroke-dasharray="1.8 0.9" stroke-dashoffset="1" stroke-opacity="0.9"/><circle cx="401.19" cy="216.40" r="1.95" fill="#505050" fill-opacity="0.3" stroke="#505050" stroke-width="1.0" stroke-dasharray="1.8 0.9" stroke-dashoffset="2" stroke-opacity="0.9"/><circle cx="395.13" cy="220.44" r="1.95" fill="#7c7c7c" fill-opacity="0.3" stroke="#7c7c7c" stroke-width="1.0" stroke-dasharray="1.8 0.9" stroke-dashoffset="0" stroke-opacity="0.9"/><circle cx="409.93" cy="221.78" r="2.25" fill="#d0d0d0" fill-opacity="0.3" stroke="#d0d0d0" stroke-width="1.0" stroke-dasharray="1.8 0.9" stroke-dashoffset="1" stroke-opacity="0.9"/><circle cx="416.66" cy="200.25" r="1.95" fill="#7c7c7c" fill-opacity="0.3" stroke="#7c7c7c" stroke-width="1.0" stroke-dasharray="1.8 0.9" stroke-dashoffset="2" stroke-opacity="0.9"/><circle cx="418.68" cy="206.98" r="1.95" fill="#7c7c7c" fill-opacity="0.3" stroke="#7c7c7c" stroke-width="1.0" stroke-dasharray="1.8 0.9" stroke-dashoffset="0" stroke-opacity="0.9"/><circle cx="418.01" cy="212.36" r="1.95" fill="#505050" fill-opacity="0.3" stroke="#505050" stroke-width="1.0" stroke-dasharray="1.8 0.9" stroke-dashoffset="1" stroke-opacity="0.9"/><circle cx="420.70" cy="217.07" r="2.25" fill="#acacac" fill-opacity="0.3" stroke="#acacac" stroke-width="1.0" stroke-dasharray="1.8 0.9" stroke-dashoffset="2" stroke-opacity="0.9"/><circle cx="425.41" cy="198.23" r="1.95" fill="#505050" fill-opacity="0.3" stroke="#505050" stroke-width="1.0" stroke-dasharray="1.8 0.9" stroke-dashoffset="0" stroke-opacity="0.9"/><circle cx="428.10" cy="206.98" r="1.95" fill="#505050" fill-opacity="0.3" stroke="#505050" stroke-width="1.0" stroke-dasharray="1.8 0.9" stroke-dashoffset="1" stroke-opacity="0.9"/><circle cx="430.79" cy="212.36" r="1.95" fill="#505050" fill-opacity="0.3" stroke="#505050" stroke-width="1.0" stroke-dasharray="1.8 0.9" stroke-dashoffset="2" stroke-opacity="0.9"/><circle cx="420.70" cy="223.13" r="1.95" fill="#7c7c7c" fill-opacity="0.3" stroke="#7c7c7c" stroke-width="1.0" stroke-dasharray="1.8 0.9" stroke-dashoffset="0" stroke-opacity="0.9"/><circle cx="374.94" cy="221.78" r="1.95" fill="#505050" fill-opacity="0.3" stroke="#505050" stroke-width="1.0" stroke-dasharray="1.8 0.9" stroke-dashoffset="1" stroke-opacity="0.9"/><circle cx="425.41" cy="226.49" r="1.95" fill="#7c7c7c" fill-opacity="0.3" stroke="#7c7c7c" stroke-width="1.0" stroke-dasharray="1.8 0.9" stroke-dashoffset="2" stroke-opacity="0.9"/><circle cx="384.36" cy="227.17" r="1.95" fill="#505050" fill-opacity="0.3" stroke="#505050" stroke-width="1.0" stroke-dasharray="1.8 0.9" stroke-dashoffset="0" stroke-opacity="0.9"/></g></g>
<rect x="436.5" y="159.2" width="70.0" height="68.10000000000002" fill="#000"/>
<g clip-path="url(#c02)"><g filter="url(#bl)"><circle cx="440.54" cy="161.89" r="2.15" fill="#505050" fill-opacity="0.25" stroke="#58260e" stroke-width="1.25"/><circle cx="440.54" cy="161.89" r="1.35" fill="none" stroke="#505050" stroke-width="0.7" stroke-dasharray="1.4 1.2" stroke-dashoffset="0" stroke-opacity="0.8"/><circle cx="444.31" cy="165.93" r="2.15" fill="#7c7c7c" fill-opacity="0.25" stroke="#ac461c" stroke-width="1.25"/><circle cx="444.31" cy="165.93" r="1.35" fill="none" stroke="#7c7c7c" stroke-width="0.7" stroke-dasharray="1.4 1.2" stroke-dashoffset="1" stroke-opacity="0.8"/><circle cx="443.90" cy="170.64" r="2.15" fill="#7c7c7c" fill-opacity="0.25" stroke="#ac461c" stroke-width="1.25"/><circle cx="443.90" cy="170.64" r="1.35" fill="none" stroke="#7c7c7c" stroke-width="0.7" stroke-dasharray="1.4 1.2" stroke-dashoffset="2" stroke-opacity="0.8"/><circle cx="441.21" cy="174.68" r="2.15" fill="#505050" fill-opacity="0.25" stroke="#58260e" stroke-width="1.25"/><circle cx="441.21" cy="174.68" r="1.35" fill="none" stroke="#505050" stroke-width="0.7" stroke-dasharray="1.4 1.2" stroke-dashoffset="0" stroke-opacity="0.8"/><circle cx="441.88" cy="179.39" r="2.15" fill="#505050" fill-opacity="0.25" stroke="#58260e" stroke-width="1.25"/><circle cx="441.88" cy="179.39" r="1.35" fill="none" stroke="#505050" stroke-width="0.7" stroke-dasharray="1.4 1.2" stroke-dashoffset="1" stroke-opacity="0.8"/><circle cx="456.02" cy="165.93" r="2.45" fill="#acacac" fill-opacity="0.25" stroke="#e0622a" stroke-width="1.25"/><circle cx="456.02" cy="165.93" r="1.65" fill="none" stroke="#acacac" stroke-width="0.7" stroke-dasharray="1.4 1.2" stroke-dashoffset="2" stroke-opacity="0.8"/><circle cx="459.65" cy="164.31" r="2.15" fill="#505050" fill-opacity="0.25" stroke="#58260e" stroke-width="1.25"/><circle cx="459.65" cy="164.31" r="1.35" fill="none" stroke="#505050" stroke-width="0.7" stroke-dasharray="1.4 1.2" stroke-dashoffset="0" stroke-opacity="0.8"/><circle cx="459.38" cy="169.29" r="2.15" fill="#505050" fill-opacity="0.25" stroke="#58260e" stroke-width="1.25"/><circle cx="459.38" cy="169.29" r="1.35" fill="none" stroke="#505050" stroke-width="0.7" stroke-dasharray="1.4 1.2" stroke-dashoffset="1" stroke-opacity="0.8"/><circle cx="450.63" cy="179.39" r="2.15" fill="#7c7c7c" fill-opacity="0.25" stroke="#ac461c" stroke-width="1.25"/><circle cx="450.63" cy="179.39" r="1.35" fill="none" stroke="#7c7c7c" stroke-width="0.7" stroke-dasharray="1.4 1.2" stroke-dashoffset="2" stroke-opacity="0.8"/><circle cx="456.69" cy="179.39" r="2.15" fill="#505050" fill-opacity="0.25" stroke="#58260e" stroke-width="1.25"/><circle cx="456.69" cy="179.39" r="1.35" fill="none" stroke="#505050" stroke-width="0.7" stroke-dasharray="1.4 1.2" stroke-dashoffset="0" stroke-opacity="0.8"/><circle cx="460.05" cy="183.43" r="2.15" fill="#7c7c7c" fill-opacity="0.25" stroke="#ac461c" stroke-width="1.25"/><circle cx="460.05" cy="183.43" r="1.35" fill="none" stroke="#7c7c7c" stroke-width="0.7" stroke-dasharray="1.4 1.2" stroke-dashoffset="1" stroke-opacity="0.8"/><circle cx="463.15" cy="178.04" r="2.15" fill="#7c7c7c" fill-opacity="0.25" stroke="#ac461c" stroke-width="1.25"/><circle cx="463.15" cy="178.04" r="1.35" fill="none" stroke="#7c7c7c" stroke-width="0.7" stroke-dasharray="1.4 1.2" stroke-dashoffset="2" stroke-opacity="0.8"/><circle cx="468.80" cy="183.43" r="2.15" fill="#505050" fill-opacity="0.25" stroke="#58260e" stroke-width="1.25"/><circle cx="468.80" cy="183.43" r="1.35" fill="none" stroke="#505050" stroke-width="0.7" stroke-dasharray="1.4 1.2" stroke-dashoffset="0" stroke-opacity="0.8"/><circle cx="476.88" cy="171.99" r="2.15" fill="#7c7c7c" fill-opacity="0.25" stroke="#ac461c" stroke-width="1.25"/><circle cx="476.88" cy="171.99" r="1.35" fill="none" stroke="#7c7c7c" stroke-width="0.7" stroke-dasharray="1.4 1.2" stroke-dashoffset="1" stroke-opacity="0.8"/><circle cx="477.95" cy="178.72" r="2.45" fill="#acacac" fill-opacity="0.25" stroke="#e0622a" stroke-width="1.25"/><circle cx="477.95" cy="178.72" r="1.65" fill="none" stroke="#acacac" stroke-width="0.7" stroke-dasharray="1.4 1.2" stroke-dashoffset="2" stroke-opacity="0.8"/><circle cx="479.57" cy="164.31" r="2.15" fill="#505050" fill-opacity="0.25" stroke="#58260e" stroke-width="1.25"/><circle cx="479.57" cy="164.31" r="1.35" fill="none" stroke="#505050" stroke-width="0.7" stroke-dasharray="1.4 1.2" stroke-dashoffset="0" stroke-opacity="0.8"/><circle cx="483.61" cy="168.62" r="2.15" fill="#505050" fill-opacity="0.25" stroke="#58260e" stroke-width="1.25"/><circle cx="483.61" cy="168.62" r="1.35" fill="none" stroke="#505050" stroke-width="0.7" stroke-dasharray="1.4 1.2" stroke-dashoffset="1" stroke-opacity="0.8"/><circle cx="475.53" cy="188.14" r="2.45" fill="#acacac" fill-opacity="0.25" stroke="#e0622a" stroke-width="1.25"/><circle cx="475.53" cy="188.14" r="1.65" fill="none" stroke="#acacac" stroke-width="0.7" stroke-dasharray="1.4 1.2" stroke-dashoffset="2" stroke-opacity="0.8"/><circle cx="484.95" cy="183.43" r="2.15" fill="#505050" fill-opacity="0.25" stroke="#58260e" stroke-width="1.25"/><circle cx="484.95" cy="183.43" r="1.35" fill="none" stroke="#505050" stroke-width="0.7" stroke-dasharray="1.4 1.2" stroke-dashoffset="0" stroke-opacity="0.8"/><circle cx="488.99" cy="188.14" r="2.15" fill="#505050" fill-opacity="0.25" stroke="#58260e" stroke-width="1.25"/><circle cx="488.99" cy="188.14" r="1.35" fill="none" stroke="#505050" stroke-width="0.7" stroke-dasharray="1.4 1.2" stroke-dashoffset="1" stroke-opacity="0.8"/><circle cx="494.37" cy="163.91" r="2.15" fill="#505050" fill-opacity="0.25" stroke="#58260e" stroke-width="1.25"/><circle cx="494.37" cy="163.91" r="1.35" fill="none" stroke="#505050" stroke-width="0.7" stroke-dasharray="1.4 1.2" stroke-dashoffset="2" stroke-opacity="0.8"/><circle cx="502.45" cy="167.95" r="2.15" fill="#7c7c7c" fill-opacity="0.25" stroke="#ac461c" stroke-width="1.25"/><circle cx="502.45" cy="167.95" r="1.35" fill="none" stroke="#7c7c7c" stroke-width="0.7" stroke-dasharray="1.4 1.2" stroke-dashoffset="0" stroke-opacity="0.8"/><circle cx="495.45" cy="174.68" r="2.15" fill="#505050" fill-opacity="0.25" stroke="#58260e" stroke-width="1.25"/><circle cx="495.45" cy="174.68" r="1.35" fill="none" stroke="#505050" stroke-width="0.7" stroke-dasharray="1.4 1.2" stroke-dashoffset="1" stroke-opacity="0.8"/><circle cx="500.43" cy="179.39" r="2.15" fill="#7c7c7c" fill-opacity="0.25" stroke="#ac461c" stroke-width="1.25"/><circle cx="500.43" cy="179.39" r="1.35" fill="none" stroke="#7c7c7c" stroke-width="0.7" stroke-dasharray="1.4 1.2" stroke-dashoffset="2" stroke-opacity="0.8"/><circle cx="501.10" cy="184.10" r="2.15" fill="#505050" fill-opacity="0.25" stroke="#58260e" stroke-width="1.25"/><circle cx="501.10" cy="184.10" r="1.35" fill="none" stroke="#505050" stroke-width="0.7" stroke-dasharray="1.4 1.2" stroke-dashoffset="0" stroke-opacity="0.8"/><circle cx="443.23" cy="189.48" r="2.15" fill="#505050" fill-opacity="0.25" stroke="#58260e" stroke-width="1.25"/><circle cx="443.23" cy="189.48" r="1.35" fill="none" stroke="#505050" stroke-width="0.7" stroke-dasharray="1.4 1.2" stroke-dashoffset="1" stroke-opacity="0.8"/><circle cx="447.94" cy="192.85" r="2.15" fill="#7c7c7c" fill-opacity="0.25" stroke="#ac461c" stroke-width="1.25"/><circle cx="447.94" cy="192.85" r="1.35" fill="none" stroke="#7c7c7c" stroke-width="0.7" stroke-dasharray="1.4 1.2" stroke-dashoffset="2" stroke-opacity="0.8"/><circle cx="450.63" cy="190.16" r="2.15" fill="#505050" fill-opacity="0.25" stroke="#58260e" stroke-width="1.25"/><circle cx="450.63" cy="190.16" r="1.35" fill="none" stroke="#505050" stroke-width="0.7" stroke-dasharray="1.4 1.2" stroke-dashoffset="0" stroke-opacity="0.8"/><circle cx="456.02" cy="190.83" r="2.15" fill="#7c7c7c" fill-opacity="0.25" stroke="#ac461c" stroke-width="1.25"/><circle cx="456.02" cy="190.83" r="1.35" fill="none" stroke="#7c7c7c" stroke-width="0.7" stroke-dasharray="1.4 1.2" stroke-dashoffset="1" stroke-opacity="0.8"/><circle cx="460.05" cy="195.54" r="2.15" fill="#505050" fill-opacity="0.25" stroke="#58260e" stroke-width="1.25"/><circle cx="460.05" cy="195.54" r="1.35" fill="none" stroke="#505050" stroke-width="0.7" stroke-dasharray="1.4 1.2" stroke-dashoffset="2" stroke-opacity="0.8"/><circle cx="462.07" cy="202.27" r="2.15" fill="#505050" fill-opacity="0.25" stroke="#58260e" stroke-width="1.25"/><circle cx="462.07" cy="202.27" r="1.35" fill="none" stroke="#505050" stroke-width="0.7" stroke-dasharray="1.4 1.2" stroke-dashoffset="0" stroke-opacity="0.8"/><circle cx="444.58" cy="200.25" r="2.45" fill="#acacac" fill-opacity="0.25" stroke="#e0622a" stroke-width="1.25"/><circle cx="444.58" cy="200.25" r="1.65" fill="none" stroke="#acacac" stroke-width="0.7" stroke-dasharray="1.4 1.2" stroke-dashoffset="1" stroke-opacity="0.8"/><circle cx="439.86" cy="204.96" r="2.15" fill="#505050" fill-opacity="0.25" stroke="#58260e" stroke-width="1.25"/><circle cx="439.86" cy="204.96" r="1.35" fill="none" stroke="#505050" stroke-width="0.7" stroke-dasharray="1.4 1.2" stroke-dashoffset="2" stroke-opacity="0.8"/><circle cx="465.84" cy="210.07" r="2.45" fill="#acacac" fill-opacity="0.25" stroke="#e0622a" stroke-width="1.25"/><circle cx="465.84" cy="210.07" r="1.65" fill="none" stroke="#acacac" stroke-width="0.7" stroke-dasharray="1.4 1.2" stroke-dashoffset="0" stroke-opacity="0.8"/><circle cx="472.17" cy="210.34" r="2.15" fill="#7c7c7c" fill-opacity="0.25" stroke="#ac461c" stroke-width="1.25"/><circle cx="472.17" cy="210.34" r="1.35" fill="none" stroke="#7c7c7c" stroke-width="0.7" stroke-dasharray="1.4 1.2" stroke-dashoffset="1" stroke-opacity="0.8"/><circle cx="478.22" cy="211.02" r="2.15" fill="#7c7c7c" fill-opacity="0.25" stroke="#ac461c" stroke-width="1.25"/><circle cx="478.22" cy="211.02" r="1.35" fill="none" stroke="#7c7c7c" stroke-width="0.7" stroke-dasharray="1.4 1.2" stroke-dashoffset="2" stroke-opacity="0.8"/><circle cx="479.57" cy="202.00" r="2.15" fill="#505050" fill-opacity="0.25" stroke="#58260e" stroke-width="1.25"/><circle cx="479.57" cy="202.00" r="1.35" fill="none" stroke="#505050" stroke-width="0.7" stroke-dasharray="1.4 1.2" stroke-dashoffset="0" stroke-opacity="0.8"/><circle cx="475.53" cy="205.63" r="2.15" fill="#505050" fill-opacity="0.25" stroke="#58260e" stroke-width="1.25"/><circle cx="475.53" cy="205.63" r="1.35" fill="none" stroke="#505050" stroke-width="0.7" stroke-dasharray="1.4 1.2" stroke-dashoffset="1" stroke-opacity="0.8"/><circle cx="454.67" cy="210.34" r="2.15" fill="#505050" fill-opacity="0.25" stroke="#58260e" stroke-width="1.25"/><circle cx="454.67" cy="210.34" r="1.35" fill="none" stroke="#505050" stroke-width="0.7" stroke-dasharray="1.4 1.2" stroke-dashoffset="2" stroke-opacity="0.8"/><circle cx="458.03" cy="213.71" r="2.15" fill="#7c7c7c" fill-opacity="0.25" stroke="#ac461c" stroke-width="1.25"/><circle cx="458.03" cy="213.71" r="1.35" fill="none" stroke="#7c7c7c" stroke-width="0.7" stroke-dasharray="1.4 1.2" stroke-dashoffset="0" stroke-opacity="0.8"/><circle cx="454.00" cy="217.07" r="2.15" fill="#505050" fill-opacity="0.25" stroke="#58260e" stroke-width="1.25"/><circle cx="454.00" cy="217.07" r="1.35" fill="none" stroke="#505050" stroke-width="0.7" stroke-dasharray="1.4 1.2" stroke-dashoffset="1" stroke-opacity="0.8"/><circle cx="474.19" cy="216.40" r="2.15" fill="#505050" fill-opacity="0.25" stroke="#58260e" stroke-width="1.25"/><circle cx="474.19" cy="216.40" r="1.35" fill="none" stroke="#505050" stroke-width="0.7" stroke-dasharray="1.4 1.2" stroke-dashoffset="2" stroke-opacity="0.8"/><circle cx="468.13" cy="220.44" r="2.15" fill="#505050" fill-opacity="0.25" stroke="#58260e" stroke-width="1.25"/><circle cx="468.13" cy="220.44" r="1.35" fill="none" stroke="#505050" stroke-width="0.7" stroke-dasharray="1.4 1.2" stroke-dashoffset="0" stroke-opacity="0.8"/><circle cx="482.93" cy="221.78" r="2.45" fill="#acacac" fill-opacity="0.25" stroke="#e0622a" stroke-width="1.25"/><circle cx="482.93" cy="221.78" r="1.65" fill="none" stroke="#acacac" stroke-width="0.7" stroke-dasharray="1.4 1.2" stroke-dashoffset="1" stroke-opacity="0.8"/><circle cx="489.66" cy="200.25" r="2.15" fill="#7c7c7c" fill-opacity="0.25" stroke="#ac461c" stroke-width="1.25"/><circle cx="489.66" cy="200.25" r="1.35" fill="none" stroke="#7c7c7c" stroke-width="0.7" stroke-dasharray="1.4 1.2" stroke-dashoffset="2" stroke-opacity="0.8"/><circle cx="491.68" cy="206.98" r="2.15" fill="#7c7c7c" fill-opacity="0.25" stroke="#ac461c" stroke-width="1.25"/><circle cx="491.68" cy="206.98" r="1.35" fill="none" stroke="#7c7c7c" stroke-width="0.7" stroke-dasharray="1.4 1.2" stroke-dashoffset="0" stroke-opacity="0.8"/><circle cx="491.01" cy="212.36" r="2.15" fill="#505050" fill-opacity="0.25" stroke="#58260e" stroke-width="1.25"/><circle cx="491.01" cy="212.36" r="1.35" fill="none" stroke="#505050" stroke-width="0.7" stroke-dasharray="1.4 1.2" stroke-dashoffset="1" stroke-opacity="0.8"/><circle cx="493.70" cy="217.07" r="2.45" fill="#acacac" fill-opacity="0.25" stroke="#e0622a" stroke-width="1.25"/><circle cx="493.70" cy="217.07" r="1.65" fill="none" stroke="#acacac" stroke-width="0.7" stroke-dasharray="1.4 1.2" stroke-dashoffset="2" stroke-opacity="0.8"/><circle cx="498.41" cy="198.23" r="2.15" fill="#505050" fill-opacity="0.25" stroke="#58260e" stroke-width="1.25"/><circle cx="498.41" cy="198.23" r="1.35" fill="none" stroke="#505050" stroke-width="0.7" stroke-dasharray="1.4 1.2" stroke-dashoffset="0" stroke-opacity="0.8"/><circle cx="501.10" cy="206.98" r="2.15" fill="#505050" fill-opacity="0.25" stroke="#58260e" stroke-width="1.25"/><circle cx="501.10" cy="206.98" r="1.35" fill="none" stroke="#505050" stroke-width="0.7" stroke-dasharray="1.4 1.2" stroke-dashoffset="1" stroke-opacity="0.8"/><circle cx="503.79" cy="212.36" r="2.15" fill="#505050" fill-opacity="0.25" stroke="#58260e" stroke-width="1.25"/><circle cx="503.79" cy="212.36" r="1.35" fill="none" stroke="#505050" stroke-width="0.7" stroke-dasharray="1.4 1.2" stroke-dashoffset="2" stroke-opacity="0.8"/><circle cx="493.70" cy="223.13" r="2.15" fill="#505050" fill-opacity="0.25" stroke="#58260e" stroke-width="1.25"/><circle cx="493.70" cy="223.13" r="1.35" fill="none" stroke="#505050" stroke-width="0.7" stroke-dasharray="1.4 1.2" stroke-dashoffset="0" stroke-opacity="0.8"/><circle cx="447.94" cy="221.78" r="2.15" fill="#505050" fill-opacity="0.25" stroke="#58260e" stroke-width="1.25"/><circle cx="447.94" cy="221.78" r="1.35" fill="none" stroke="#505050" stroke-width="0.7" stroke-dasharray="1.4 1.2" stroke-dashoffset="1" stroke-opacity="0.8"/><circle cx="498.41" cy="226.49" r="2.15" fill="#505050" fill-opacity="0.25" stroke="#58260e" stroke-width="1.25"/><circle cx="498.41" cy="226.49" r="1.35" fill="none" stroke="#505050" stroke-width="0.7" stroke-dasharray="1.4 1.2" stroke-dashoffset="2" stroke-opacity="0.8"/><circle cx="457.36" cy="227.17" r="2.15" fill="#505050" fill-opacity="0.25" stroke="#58260e" stroke-width="1.25"/><circle cx="457.36" cy="227.17" r="1.35" fill="none" stroke="#505050" stroke-width="0.7" stroke-dasharray="1.4 1.2" stroke-dashoffset="0" stroke-opacity="0.8"/></g></g>
<rect x="292.3" y="230.0" width="68.89999999999998" height="68.5" fill="#000"/>
<g clip-path="url(#c10)"><g filter="url(#bl)"><circle cx="311.14" cy="235.38" r="2.45" fill="#d87030" fill-opacity="0.38" stroke="#d87030" stroke-width="1.55"/><circle cx="320.56" cy="233.36" r="2.15" fill="#a04c1c" fill-opacity="0.38" stroke="#a04c1c" stroke-width="1.55"/><circle cx="323.26" cy="234.71" r="2.15" fill="#a04c1c" fill-opacity="0.38" stroke="#a04c1c" stroke-width="1.55"/><circle cx="329.99" cy="234.71" r="2.15" fill="#5a2a0c" fill-opacity="0.38" stroke="#5a2a0c" stroke-width="1.55"/><circle cx="332.68" cy="239.42" r="2.45" fill="#d87030" fill-opacity="0.38" stroke="#d87030" stroke-width="1.55"/><circle cx="340.08" cy="234.04" r="2.45" fill="#d87030" fill-opacity="0.38" stroke="#d87030" stroke-width="1.55"/><circle cx="346.14" cy="236.73" r="2.15" fill="#a04c1c" fill-opacity="0.38" stroke="#a04c1c" stroke-width="1.55"/><circle cx="348.83" cy="240.77" r="2.15" fill="#5a2a0c" fill-opacity="0.38" stroke="#5a2a0c" stroke-width="1.55"/><circle cx="351.52" cy="245.48" r="2.45" fill="#d87030" fill-opacity="0.38" stroke="#d87030" stroke-width="1.55"/><circle cx="357.58" cy="243.46" r="2.45" fill="#d87030" fill-opacity="0.38" stroke="#d87030" stroke-width="1.55"/><circle cx="305.76" cy="238.75" r="2.15" fill="#5a2a0c" fill-opacity="0.38" stroke="#5a2a0c" stroke-width="1.55"/><circle cx="294.99" cy="246.15" r="2.15" fill="#a04c1c" fill-opacity="0.38" stroke="#a04c1c" stroke-width="1.55"/><circle cx="318.54" cy="242.11" r="2.15" fill="#5a2a0c" fill-opacity="0.38" stroke="#5a2a0c" stroke-width="1.55"/><circle cx="325.27" cy="244.13" r="2.15" fill="#a04c1c" fill-opacity="0.38" stroke="#a04c1c" stroke-width="1.55"/><circle cx="305.76" cy="247.50" r="2.15" fill="#5a2a0c" fill-opacity="0.38" stroke="#5a2a0c" stroke-width="1.55"/><circle cx="326.62" cy="251.53" r="2.45" fill="#d87030" fill-opacity="0.38" stroke="#d87030" stroke-width="1.55"/><circle cx="311.14" cy="253.55" r="2.45" fill="#d87030" fill-opacity="0.38" stroke="#d87030" stroke-width="1.55"/><circle cx="301.72" cy="251.53" r="2.15" fill="#5a2a0c" fill-opacity="0.38" stroke="#5a2a0c" stroke-width="1.55"/><circle cx="317.20" cy="256.24" r="2.15" fill="#5a2a0c" fill-opacity="0.38" stroke="#5a2a0c" stroke-width="1.55"/><circle cx="321.91" cy="256.24" r="2.15" fill="#5a2a0c" fill-opacity="0.38" stroke="#5a2a0c" stroke-width="1.55"/><circle cx="344.79" cy="251.53" r="2.15" fill="#a04c1c" fill-opacity="0.38" stroke="#a04c1c" stroke-width="1.55"/><circle cx="351.52" cy="253.55" r="2.15" fill="#a04c1c" fill-opacity="0.38" stroke="#a04c1c" stroke-width="1.55"/><circle cx="358.25" cy="252.88" r="2.15" fill="#5a2a0c" fill-opacity="0.38" stroke="#5a2a0c" stroke-width="1.55"/><circle cx="346.81" cy="255.57" r="2.15" fill="#5a2a0c" fill-opacity="0.38" stroke="#5a2a0c" stroke-width="1.55"/><circle cx="297.68" cy="258.94" r="2.15" fill="#a04c1c" fill-opacity="0.38" stroke="#a04c1c" stroke-width="1.55"/><circle cx="305.09" cy="258.94" r="2.45" fill="#d87030" fill-opacity="0.38" stroke="#d87030" stroke-width="1.55"/><circle cx="342.77" cy="259.61" r="2.45" fill="#d87030" fill-opacity="0.38" stroke="#d87030" stroke-width="1.55"/><circle cx="348.83" cy="261.63" r="2.15" fill="#5a2a0c" fill-opacity="0.38" stroke="#5a2a0c" stroke-width="1.55"/><circle cx="353.54" cy="264.32" r="2.15" fill="#a04c1c" fill-opacity="0.38" stroke="#a04c1c" stroke-width="1.55"/><circle cx="303.74" cy="266.34" r="2.15" fill="#a04c1c" fill-opacity="0.38" stroke="#a04c1c" stroke-width="1.55"/><circle cx="313.16" cy="267.69" r="2.15" fill="#5a2a0c" fill-opacity="0.38" stroke="#5a2a0c" stroke-width="1.55"/><circle cx="324.60" cy="266.34" r="2.15" fill="#a04c1c" fill-opacity="0.38" stroke="#a04c1c" stroke-width="1.55"/><circle cx="328.64" cy="269.03" r="2.45" fill="#f0a030" fill-opacity="0.38" stroke="#f0a030" stroke-width="1.55"/><circle cx="336.04" cy="267.69" r="2.45" fill="#d87030" fill-opacity="0.38" stroke="#d87030" stroke-width="1.55"/><circle cx="305.09" cy="272.40" r="2.45" fill="#f0a030" fill-opacity="0.38" stroke="#f0a030" stroke-width="1.55"/><circle cx="312.49" cy="275.76" r="2.15" fill="#a04c1c" fill-opacity="0.38" stroke="#a04c1c" stroke-width="1.55"/><circle cx="321.24" cy="275.76" r="2.15" fill="#5a2a0c" fill-opacity="0.38" stroke="#5a2a0c" stroke-width="1.55"/><circle cx="341.43" cy="275.76" r="2.45" fill="#f0a030" fill-opacity="0.38" stroke="#f0a030" stroke-width="1.55"/><circle cx="346.81" cy="275.09" r="2.45" fill="#f0a030" fill-opacity="0.38" stroke="#f0a030" stroke-width="1.55"/><circle cx="358.25" cy="275.76" r="2.45" fill="#d87030" fill-opacity="0.38" stroke="#d87030" stroke-width="1.55"/><circle cx="352.19" cy="277.11" r="2.15" fill="#5a2a0c" fill-opacity="0.38" stroke="#5a2a0c" stroke-width="1.55"/><circle cx="296.34" cy="269.03" r="2.15" fill="#5a2a0c" fill-opacity="0.38" stroke="#5a2a0c" stroke-width="1.55"/><circle cx="301.05" cy="283.16" r="2.45" fill="#d87030" fill-opacity="0.38" stroke="#d87030" stroke-width="1.55"/><circle cx="309.80" cy="285.18" r="2.15" fill="#a04c1c" fill-opacity="0.38" stroke="#a04c1c" stroke-width="1.55"/><circle cx="296.34" cy="289.22" r="2.15" fill="#a04c1c" fill-opacity="0.38" stroke="#a04c1c" stroke-width="1.55"/><circle cx="311.14" cy="294.60" r="2.15" fill="#a04c1c" fill-opacity="0.38" stroke="#a04c1c" stroke-width="1.55"/><circle cx="318.54" cy="295.28" r="2.15" fill="#a04c1c" fill-opacity="0.38" stroke="#a04c1c" stroke-width="1.55"/><circle cx="328.64" cy="292.58" r="2.45" fill="#d87030" fill-opacity="0.38" stroke="#d87030" stroke-width="1.55"/><circle cx="338.06" cy="287.87" r="2.15" fill="#a04c1c" fill-opacity="0.38" stroke="#a04c1c" stroke-width="1.55"/><circle cx="342.10" cy="292.58" r="2.15" fill="#a04c1c" fill-opacity="0.38" stroke="#a04c1c" stroke-width="1.55"/><circle cx="347.48" cy="289.89" r="2.45" fill="#d87030" fill-opacity="0.38" stroke="#d87030" stroke-width="1.55"/><circle cx="356.23" cy="293.93" r="2.45" fill="#d87030" fill-opacity="0.38" stroke="#d87030" stroke-width="1.55"/><circle cx="323.26" cy="297.29" r="2.15" fill="#5a2a0c" fill-opacity="0.38" stroke="#5a2a0c" stroke-width="1.55"/><circle cx="335.37" cy="294.60" r="2.15" fill="#5a2a0c" fill-opacity="0.38" stroke="#5a2a0c" stroke-width="1.55"/><circle cx="305.76" cy="293.93" r="2.15" fill="#5a2a0c" fill-opacity="0.38" stroke="#5a2a0c" stroke-width="1.55"/><circle cx="346.14" cy="266.34" r="2.15" fill="#5a2a0c" fill-opacity="0.38" stroke="#5a2a0c" stroke-width="1.55"/></g></g>
<rect x="363.5" y="230.0" width="70.39999999999998" height="68.5" fill="#000"/>
<g clip-path="url(#c11)"><g filter="url(#bl)"><circle cx="382.34" cy="235.38" r="2.25" fill="#a8a8a8" fill-opacity="0.3" stroke="#a8a8a8" stroke-width="1.0" stroke-dasharray="1.8 0.9" stroke-dashoffset="0" stroke-opacity="0.9"/><circle cx="391.76" cy="233.36" r="1.95" fill="#787878" fill-opacity="0.3" stroke="#787878" stroke-width="1.0" stroke-dasharray="1.8 0.9" stroke-dashoffset="1" stroke-opacity="0.9"/><circle cx="394.46" cy="234.71" r="1.95" fill="#d0d0d0" fill-opacity="0.3" stroke="#d0d0d0" stroke-width="1.0" stroke-dasharray="1.8 0.9" stroke-dashoffset="2" stroke-opacity="0.9"/><circle cx="401.19" cy="234.71" r="1.95" fill="#787878" fill-opacity="0.3" stroke="#787878" stroke-width="1.0" stroke-dasharray="1.8 0.9" stroke-dashoffset="0" stroke-opacity="0.9"/><circle cx="403.88" cy="239.42" r="2.25" fill="#d0d0d0" fill-opacity="0.3" stroke="#d0d0d0" stroke-width="1.0" stroke-dasharray="1.8 0.9" stroke-dashoffset="1" stroke-opacity="0.9"/><circle cx="411.28" cy="234.04" r="2.25" fill="#d0d0d0" fill-opacity="0.3" stroke="#d0d0d0" stroke-width="1.0" stroke-dasharray="1.8 0.9" stroke-dashoffset="2" stroke-opacity="0.9"/><circle cx="417.34" cy="236.73" r="1.95" fill="#d0d0d0" fill-opacity="0.3" stroke="#d0d0d0" stroke-width="1.0" stroke-dasharray="1.8 0.9" stroke-dashoffset="0" stroke-opacity="0.9"/><circle cx="420.03" cy="240.77" r="1.95" fill="#a8a8a8" fill-opacity="0.3" stroke="#a8a8a8" stroke-width="1.0" stroke-dasharray="1.8 0.9" stroke-dashoffset="1" stroke-opacity="0.9"/><circle cx="422.72" cy="245.48" r="2.25" fill="#a8a8a8" fill-opacity="0.3" stroke="#a8a8a8" stroke-width="1.0" stroke-dasharray="1.8 0.9" stroke-dashoffset="2" stroke-opacity="0.9"/><circle cx="428.78" cy="243.46" r="2.25" fill="#a8a8a8" fill-opacity="0.3" stroke="#a8a8a8" stroke-width="1.0" stroke-dasharray="1.8 0.9" stroke-dashoffset="0" stroke-opacity="0.9"/><circle cx="376.96" cy="238.75" r="1.95" fill="#787878" fill-opacity="0.3" stroke="#787878" stroke-width="1.0" stroke-dasharray="1.8 0.9" stroke-dashoffset="1" stroke-opacity="0.9"/><circle cx="366.19" cy="246.15" r="1.95" fill="#a8a8a8" fill-opacity="0.3" stroke="#a8a8a8" stroke-width="1.0" stroke-dasharray="1.8 0.9" stroke-dashoffset="2" stroke-opacity="0.9"/><circle cx="389.74" cy="242.11" r="1.95" fill="#787878" fill-opacity="0.3" stroke="#787878" stroke-width="1.0" stroke-dasharray="1.8 0.9" stroke-dashoffset="0" stroke-opacity="0.9"/><circle cx="396.47" cy="244.13" r="1.95" fill="#d0d0d0" fill-opacity="0.3" stroke="#d0d0d0" stroke-width="1.0" stroke-dasharray="1.8 0.9" stroke-dashoffset="1" stroke-opacity="0.9"/><circle cx="376.96" cy="247.50" r="1.95" fill="#a8a8a8" fill-opacity="0.3" stroke="#a8a8a8" stroke-width="1.0" stroke-dasharray="1.8 0.9" stroke-dashoffset="2" stroke-opacity="0.9"/><circle cx="397.82" cy="251.53" r="2.25" fill="#a8a8a8" fill-opacity="0.3" stroke="#a8a8a8" stroke-width="1.0" stroke-dasharray="1.8 0.9" stroke-dashoffset="0" stroke-opacity="0.9"/><circle cx="382.34" cy="253.55" r="2.25" fill="#a8a8a8" fill-opacity="0.3" stroke="#a8a8a8" stroke-width="1.0" stroke-dasharray="1.8 0.9" stroke-dashoffset="1" stroke-opacity="0.9"/><circle cx="372.92" cy="251.53" r="1.95" fill="#787878" fill-opacity="0.3" stroke="#787878" stroke-width="1.0" stroke-dasharray="1.8 0.9" stroke-dashoffset="2" stroke-opacity="0.9"/><circle cx="388.40" cy="256.24" r="1.95" fill="#a8a8a8" fill-opacity="0.3" stroke="#a8a8a8" stroke-width="1.0" stroke-dasharray="1.8 0.9" stroke-dashoffset="0" stroke-opacity="0.9"/><circle cx="393.11" cy="256.24" r="1.95" fill="#787878" fill-opacity="0.3" stroke="#787878" stroke-width="1.0" stroke-dasharray="1.8 0.9" stroke-dashoffset="1" stroke-opacity="0.9"/><circle cx="415.99" cy="251.53" r="1.95" fill="#787878" fill-opacity="0.3" stroke="#787878" stroke-width="1.0" stroke-dasharray="1.8 0.9" stroke-dashoffset="2" stroke-opacity="0.9"/><circle cx="422.72" cy="253.55" r="1.95" fill="#a8a8a8" fill-opacity="0.3" stroke="#a8a8a8" stroke-width="1.0" stroke-dasharray="1.8 0.9" stroke-dashoffset="0" stroke-opacity="0.9"/><circle cx="429.45" cy="252.88" r="1.95" fill="#a8a8a8" fill-opacity="0.3" stroke="#a8a8a8" stroke-width="1.0" stroke-dasharray="1.8 0.9" stroke-dashoffset="1" stroke-opacity="0.9"/><circle cx="418.01" cy="255.57" r="1.95" fill="#787878" fill-opacity="0.3" stroke="#787878" stroke-width="1.0" stroke-dasharray="1.8 0.9" stroke-dashoffset="2" stroke-opacity="0.9"/><circle cx="368.88" cy="258.94" r="1.95" fill="#d0d0d0" fill-opacity="0.3" stroke="#d0d0d0" stroke-width="1.0" stroke-dasharray="1.8 0.9" stroke-dashoffset="0" stroke-opacity="0.9"/><circle cx="376.29" cy="258.94" r="2.25" fill="#d0d0d0" fill-opacity="0.3" stroke="#d0d0d0" stroke-width="1.0" stroke-dasharray="1.8 0.9" stroke-dashoffset="1" stroke-opacity="0.9"/><circle cx="413.97" cy="259.61" r="2.25" fill="#a8a8a8" fill-opacity="0.3" stroke="#a8a8a8" stroke-width="1.0" stroke-dasharray="1.8 0.9" stroke-dashoffset="2" stroke-opacity="0.9"/><circle cx="420.03" cy="261.63" r="1.95" fill="#a8a8a8" fill-opacity="0.3" stroke="#a8a8a8" stroke-width="1.0" stroke-dasharray="1.8 0.9" stroke-dashoffset="0" stroke-opacity="0.9"/><circle cx="424.74" cy="264.32" r="1.95" fill="#a8a8a8" fill-opacity="0.3" stroke="#a8a8a8" stroke-width="1.0" stroke-dasharray="1.8 0.9" stroke-dashoffset="1" stroke-opacity="0.9"/><circle cx="374.94" cy="266.34" r="1.95" fill="#a8a8a8" fill-opacity="0.3" stroke="#a8a8a8" stroke-width="1.0" stroke-dasharray="1.8 0.9" stroke-dashoffset="2" stroke-opacity="0.9"/><circle cx="384.36" cy="267.69" r="1.95" fill="#787878" fill-opacity="0.3" stroke="#787878" stroke-width="1.0" stroke-dasharray="1.8 0.9" stroke-dashoffset="0" stroke-opacity="0.9"/><circle cx="395.80" cy="266.34" r="1.95" fill="#d0d0d0" fill-opacity="0.3" stroke="#d0d0d0" stroke-width="1.0" stroke-dasharray="1.8 0.9" stroke-dashoffset="1" stroke-opacity="0.9"/><circle cx="399.84" cy="269.03" r="2.25" fill="#d0d0d0" fill-opacity="0.3" stroke="#d0d0d0" stroke-width="1.0" stroke-dasharray="1.8 0.9" stroke-dashoffset="2" stroke-opacity="0.9"/><circle cx="407.24" cy="267.69" r="2.25" fill="#d0d0d0" fill-opacity="0.3" stroke="#d0d0d0" stroke-width="1.0" stroke-dasharray="1.8 0.9" stroke-dashoffset="0" stroke-opacity="0.9"/><circle cx="376.29" cy="272.40" r="2.25" fill="#ececec" fill-opacity="0.3" stroke="#ececec" stroke-width="1.0" stroke-dasharray="1.8 0.9" stroke-dashoffset="1" stroke-opacity="0.9"/><circle cx="383.69" cy="275.76" r="1.95" fill="#a8a8a8" fill-opacity="0.3" stroke="#a8a8a8" stroke-width="1.0" stroke-dasharray="1.8 0.9" stroke-dashoffset="2" stroke-opacity="0.9"/><circle cx="392.44" cy="275.76" r="1.95" fill="#787878" fill-opacity="0.3" stroke="#787878" stroke-width="1.0" stroke-dasharray="1.8 0.9" stroke-dashoffset="0" stroke-opacity="0.9"/><circle cx="412.63" cy="275.76" r="2.25" fill="#ececec" fill-opacity="0.3" stroke="#ececec" stroke-width="1.0" stroke-dasharray="1.8 0.9" stroke-dashoffset="1" stroke-opacity="0.9"/><circle cx="418.01" cy="275.09" r="2.25" fill="#ececec" fill-opacity="0.3" stroke="#ececec" stroke-width="1.0" stroke-dasharray="1.8 0.9" stroke-dashoffset="2" stroke-opacity="0.9"/><circle cx="429.45" cy="275.76" r="2.25" fill="#ececec" fill-opacity="0.3" stroke="#ececec" stroke-width="1.0" stroke-dasharray="1.8 0.9" stroke-dashoffset="0" stroke-opacity="0.9"/><circle cx="423.39" cy="277.11" r="1.95" fill="#787878" fill-opacity="0.3" stroke="#787878" stroke-width="1.0" stroke-dasharray="1.8 0.9" stroke-dashoffset="1" stroke-opacity="0.9"/><circle cx="367.54" cy="269.03" r="1.95" fill="#787878" fill-opacity="0.3" stroke="#787878" stroke-width="1.0" stroke-dasharray="1.8 0.9" stroke-dashoffset="2" stroke-opacity="0.9"/><circle cx="372.25" cy="283.16" r="2.25" fill="#ececec" fill-opacity="0.3" stroke="#ececec" stroke-width="1.0" stroke-dasharray="1.8 0.9" stroke-dashoffset="0" stroke-opacity="0.9"/><circle cx="381.00" cy="285.18" r="1.95" fill="#d0d0d0" fill-opacity="0.3" stroke="#d0d0d0" stroke-width="1.0" stroke-dasharray="1.8 0.9" stroke-dashoffset="1" stroke-opacity="0.9"/><circle cx="367.54" cy="289.22" r="1.95" fill="#a8a8a8" fill-opacity="0.3" stroke="#a8a8a8" stroke-width="1.0" stroke-dasharray="1.8 0.9" stroke-dashoffset="2" stroke-opacity="0.9"/><circle cx="382.34" cy="294.60" r="1.95" fill="#a8a8a8" fill-opacity="0.3" stroke="#a8a8a8" stroke-width="1.0" stroke-dasharray="1.8 0.9" stroke-dashoffset="0" stroke-opacity="0.9"/><circle cx="389.74" cy="295.28" r="1.95" fill="#d0d0d0" fill-opacity="0.3" stroke="#d0d0d0" stroke-width="1.0" stroke-dasharray="1.8 0.9" stroke-dashoffset="1" stroke-opacity="0.9"/><circle cx="399.84" cy="292.58" r="2.25" fill="#d0d0d0" fill-opacity="0.3" stroke="#d0d0d0" stroke-width="1.0" stroke-dasharray="1.8 0.9" stroke-dashoffset="2" stroke-opacity="0.9"/><circle cx="409.26" cy="287.87" r="1.95" fill="#d0d0d0" fill-opacity="0.3" stroke="#d0d0d0" stroke-width="1.0" stroke-dasharray="1.8 0.9" stroke-dashoffset="0" stroke-opacity="0.9"/><circle cx="413.30" cy="292.58" r="1.95" fill="#a8a8a8" fill-opacity="0.3" stroke="#a8a8a8" stroke-width="1.0" stroke-dasharray="1.8 0.9" stroke-dashoffset="1" stroke-opacity="0.9"/><circle cx="418.68" cy="289.89" r="2.25" fill="#ececec" fill-opacity="0.3" stroke="#ececec" stroke-width="1.0" stroke-dasharray="1.8 0.9" stroke-dashoffset="2" stroke-opacity="0.9"/><circle cx="427.43" cy="293.93" r="2.25" fill="#d0d0d0" fill-opacity="0.3" stroke="#d0d0d0" stroke-width="1.0" stroke-dasharray="1.8 0.9" stroke-dashoffset="0" stroke-opacity="0.9"/><circle cx="394.46" cy="297.29" r="1.95" fill="#787878" fill-opacity="0.3" stroke="#787878" stroke-width="1.0" stroke-dasharray="1.8 0.9" stroke-dashoffset="1" stroke-opacity="0.9"/><circle cx="406.57" cy="294.60" r="1.95" fill="#787878" fill-opacity="0.3" stroke="#787878" stroke-width="1.0" stroke-dasharray="1.8 0.9" stroke-dashoffset="2" stroke-opacity="0.9"/><circle cx="376.96" cy="293.93" r="1.95" fill="#787878" fill-opacity="0.3" stroke="#787878" stroke-width="1.0" stroke-dasharray="1.8 0.9" stroke-dashoffset="0" stroke-opacity="0.9"/><circle cx="417.34" cy="266.34" r="1.95" fill="#787878" fill-opacity="0.3" stroke="#787878" stroke-width="1.0" stroke-dasharray="1.8 0.9" stroke-dashoffset="1" stroke-opacity="0.9"/></g></g>
<rect x="436.5" y="230.0" width="70.0" height="68.5" fill="#000"/>
<g clip-path="url(#c12)"><g filter="url(#bl)"><circle cx="455.34" cy="235.38" r="2.45" fill="#d0d0d0" fill-opacity="0.25" stroke="#e0622a" stroke-width="1.25"/><circle cx="455.34" cy="235.38" r="1.65" fill="none" stroke="#d0d0d0" stroke-width="0.7" stroke-dasharray="1.4 1.2" stroke-dashoffset="0" stroke-opacity="0.8"/><circle cx="464.76" cy="233.36" r="2.15" fill="#a8a8a8" fill-opacity="0.25" stroke="#ac461c" stroke-width="1.25"/><circle cx="464.76" cy="233.36" r="1.35" fill="none" stroke="#a8a8a8" stroke-width="0.7" stroke-dasharray="1.4 1.2" stroke-dashoffset="1" stroke-opacity="0.8"/><circle cx="467.46" cy="234.71" r="2.15" fill="#a8a8a8" fill-opacity="0.25" stroke="#ac461c" stroke-width="1.25"/><circle cx="467.46" cy="234.71" r="1.35" fill="none" stroke="#a8a8a8" stroke-width="0.7" stroke-dasharray="1.4 1.2" stroke-dashoffset="2" stroke-opacity="0.8"/><circle cx="474.19" cy="234.71" r="2.15" fill="#787878" fill-opacity="0.25" stroke="#58260e" stroke-width="1.25"/><circle cx="474.19" cy="234.71" r="1.35" fill="none" stroke="#787878" stroke-width="0.7" stroke-dasharray="1.4 1.2" stroke-dashoffset="0" stroke-opacity="0.8"/><circle cx="476.88" cy="239.42" r="2.45" fill="#d0d0d0" fill-opacity="0.25" stroke="#e0622a" stroke-width="1.25"/><circle cx="476.88" cy="239.42" r="1.65" fill="none" stroke="#d0d0d0" stroke-width="0.7" stroke-dasharray="1.4 1.2" stroke-dashoffset="1" stroke-opacity="0.8"/><circle cx="484.28" cy="234.04" r="2.45" fill="#d0d0d0" fill-opacity="0.25" stroke="#e0622a" stroke-width="1.25"/><circle cx="484.28" cy="234.04" r="1.65" fill="none" stroke="#d0d0d0" stroke-width="0.7" stroke-dasharray="1.4 1.2" stroke-dashoffset="2" stroke-opacity="0.8"/><circle cx="490.34" cy="236.73" r="2.15" fill="#a8a8a8" fill-opacity="0.25" stroke="#ac461c" stroke-width="1.25"/><circle cx="490.34" cy="236.73" r="1.35" fill="none" stroke="#a8a8a8" stroke-width="0.7" stroke-dasharray="1.4 1.2" stroke-dashoffset="0" stroke-opacity="0.8"/><circle cx="493.03" cy="240.77" r="2.15" fill="#787878" fill-opacity="0.25" stroke="#58260e" stroke-width="1.25"/><circle cx="493.03" cy="240.77" r="1.35" fill="none" stroke="#787878" stroke-width="0.7" stroke-dasharray="1.4 1.2" stroke-dashoffset="1" stroke-opacity="0.8"/><circle cx="495.72" cy="245.48" r="2.45" fill="#d0d0d0" fill-opacity="0.25" stroke="#e0622a" stroke-width="1.25"/><circle cx="495.72" cy="245.48" r="1.65" fill="none" stroke="#d0d0d0" stroke-width="0.7" stroke-dasharray="1.4 1.2" stroke-dashoffset="2" stroke-opacity="0.8"/><circle cx="501.78" cy="243.46" r="2.45" fill="#d0d0d0" fill-opacity="0.25" stroke="#e0622a" stroke-width="1.25"/><circle cx="501.78" cy="243.46" r="1.65" fill="none" stroke="#d0d0d0" stroke-width="0.7" stroke-dasharray="1.4 1.2" stroke-dashoffset="0" stroke-opacity="0.8"/><circle cx="449.96" cy="238.75" r="2.15" fill="#787878" fill-opacity="0.25" stroke="#58260e" stroke-width="1.25"/><circle cx="449.96" cy="238.75" r="1.35" fill="none" stroke="#787878" stroke-width="0.7" stroke-dasharray="1.4 1.2" stroke-dashoffset="1" stroke-opacity="0.8"/><circle cx="439.19" cy="246.15" r="2.15" fill="#a8a8a8" fill-opacity="0.25" stroke="#ac461c" stroke-width="1.25"/><circle cx="439.19" cy="246.15" r="1.35" fill="none" stroke="#a8a8a8" stroke-width="0.7" stroke-dasharray="1.4 1.2" stroke-dashoffset="2" stroke-opacity="0.8"/><circle cx="462.74" cy="242.11" r="2.15" fill="#787878" fill-opacity="0.25" stroke="#58260e" stroke-width="1.25"/><circle cx="462.74" cy="242.11" r="1.35" fill="none" stroke="#787878" stroke-width="0.7" stroke-dasharray="1.4 1.2" stroke-dashoffset="0" stroke-opacity="0.8"/><circle cx="469.47" cy="244.13" r="2.15" fill="#a8a8a8" fill-opacity="0.25" stroke="#ac461c" stroke-width="1.25"/><circle cx="469.47" cy="244.13" r="1.35" fill="none" stroke="#a8a8a8" stroke-width="0.7" stroke-dasharray="1.4 1.2" stroke-dashoffset="1" stroke-opacity="0.8"/><circle cx="449.96" cy="247.50" r="2.15" fill="#787878" fill-opacity="0.25" stroke="#58260e" stroke-width="1.25"/><circle cx="449.96" cy="247.50" r="1.35" fill="none" stroke="#787878" stroke-width="0.7" stroke-dasharray="1.4 1.2" stroke-dashoffset="2" stroke-opacity="0.8"/><circle cx="470.82" cy="251.53" r="2.45" fill="#d0d0d0" fill-opacity="0.25" stroke="#e0622a" stroke-width="1.25"/><circle cx="470.82" cy="251.53" r="1.65" fill="none" stroke="#d0d0d0" stroke-width="0.7" stroke-dasharray="1.4 1.2" stroke-dashoffset="0" stroke-opacity="0.8"/><circle cx="455.34" cy="253.55" r="2.45" fill="#d0d0d0" fill-opacity="0.25" stroke="#e0622a" stroke-width="1.25"/><circle cx="455.34" cy="253.55" r="1.65" fill="none" stroke="#d0d0d0" stroke-width="0.7" stroke-dasharray="1.4 1.2" stroke-dashoffset="1" stroke-opacity="0.8"/><circle cx="445.92" cy="251.53" r="2.15" fill="#787878" fill-opacity="0.25" stroke="#58260e" stroke-width="1.25"/><circle cx="445.92" cy="251.53" r="1.35" fill="none" stroke="#787878" stroke-width="0.7" stroke-dasharray="1.4 1.2" stroke-dashoffset="2" stroke-opacity="0.8"/><circle cx="461.40" cy="256.24" r="2.15" fill="#787878" fill-opacity="0.25" stroke="#58260e" stroke-width="1.25"/><circle cx="461.40" cy="256.24" r="1.35" fill="none" stroke="#787878" stroke-width="0.7" stroke-dasharray="1.4 1.2" stroke-dashoffset="0" stroke-opacity="0.8"/><circle cx="466.11" cy="256.24" r="2.15" fill="#787878" fill-opacity="0.25" stroke="#58260e" stroke-width="1.25"/><circle cx="466.11" cy="256.24" r="1.35" fill="none" stroke="#787878" stroke-width="0.7" stroke-dasharray="1.4 1.2" stroke-dashoffset="1" stroke-opacity="0.8"/><circle cx="488.99" cy="251.53" r="2.15" fill="#a8a8a8" fill-opacity="0.25" stroke="#ac461c" stroke-width="1.25"/><circle cx="488.99" cy="251.53" r="1.35" fill="none" stroke="#a8a8a8" stroke-width="0.7" stroke-dasharray="1.4 1.2" stroke-dashoffset="2" stroke-opacity="0.8"/><circle cx="495.72" cy="253.55" r="2.15" fill="#a8a8a8" fill-opacity="0.25" stroke="#ac461c" stroke-width="1.25"/><circle cx="495.72" cy="253.55" r="1.35" fill="none" stroke="#a8a8a8" stroke-width="0.7" stroke-dasharray="1.4 1.2" stroke-dashoffset="0" stroke-opacity="0.8"/><circle cx="502.45" cy="252.88" r="2.15" fill="#787878" fill-opacity="0.25" stroke="#58260e" stroke-width="1.25"/><circle cx="502.45" cy="252.88" r="1.35" fill="none" stroke="#787878" stroke-width="0.7" stroke-dasharray="1.4 1.2" stroke-dashoffset="1" stroke-opacity="0.8"/><circle cx="491.01" cy="255.57" r="2.15" fill="#787878" fill-opacity="0.25" stroke="#58260e" stroke-width="1.25"/><circle cx="491.01" cy="255.57" r="1.35" fill="none" stroke="#787878" stroke-width="0.7" stroke-dasharray="1.4 1.2" stroke-dashoffset="2" stroke-opacity="0.8"/><circle cx="441.88" cy="258.94" r="2.15" fill="#a8a8a8" fill-opacity="0.25" stroke="#ac461c" stroke-width="1.25"/><circle cx="441.88" cy="258.94" r="1.35" fill="none" stroke="#a8a8a8" stroke-width="0.7" stroke-dasharray="1.4 1.2" stroke-dashoffset="0" stroke-opacity="0.8"/><circle cx="449.29" cy="258.94" r="2.45" fill="#d0d0d0" fill-opacity="0.25" stroke="#e0622a" stroke-width="1.25"/><circle cx="449.29" cy="258.94" r="1.65" fill="none" stroke="#d0d0d0" stroke-width="0.7" stroke-dasharray="1.4 1.2" stroke-dashoffset="1" stroke-opacity="0.8"/><circle cx="486.97" cy="259.61" r="2.45" fill="#d0d0d0" fill-opacity="0.25" stroke="#e0622a" stroke-width="1.25"/><circle cx="486.97" cy="259.61" r="1.65" fill="none" stroke="#d0d0d0" stroke-width="0.7" stroke-dasharray="1.4 1.2" stroke-dashoffset="2" stroke-opacity="0.8"/><circle cx="493.03" cy="261.63" r="2.15" fill="#787878" fill-opacity="0.25" stroke="#58260e" stroke-width="1.25"/><circle cx="493.03" cy="261.63" r="1.35" fill="none" stroke="#787878" stroke-width="0.7" stroke-dasharray="1.4 1.2" stroke-dashoffset="0" stroke-opacity="0.8"/><circle cx="497.74" cy="264.32" r="2.15" fill="#a8a8a8" fill-opacity="0.25" stroke="#ac461c" stroke-width="1.25"/><circle cx="497.74" cy="264.32" r="1.35" fill="none" stroke="#a8a8a8" stroke-width="0.7" stroke-dasharray="1.4 1.2" stroke-dashoffset="1" stroke-opacity="0.8"/><circle cx="447.94" cy="266.34" r="2.15" fill="#a8a8a8" fill-opacity="0.25" stroke="#ac461c" stroke-width="1.25"/><circle cx="447.94" cy="266.34" r="1.35" fill="none" stroke="#a8a8a8" stroke-width="0.7" stroke-dasharray="1.4 1.2" stroke-dashoffset="2" stroke-opacity="0.8"/><circle cx="457.36" cy="267.69" r="2.15" fill="#787878" fill-opacity="0.25" stroke="#58260e" stroke-width="1.25"/><circle cx="457.36" cy="267.69" r="1.35" fill="none" stroke="#787878" stroke-width="0.7" stroke-dasharray="1.4 1.2" stroke-dashoffset="0" stroke-opacity="0.8"/><circle cx="468.80" cy="266.34" r="2.15" fill="#a8a8a8" fill-opacity="0.25" stroke="#ac461c" stroke-width="1.25"/><circle cx="468.80" cy="266.34" r="1.35" fill="none" stroke="#a8a8a8" stroke-width="0.7" stroke-dasharray="1.4 1.2" stroke-dashoffset="1" stroke-opacity="0.8"/><circle cx="472.84" cy="269.03" r="2.45" fill="#ececec" fill-opacity="0.25" stroke="#f08a30" stroke-width="1.25"/><circle cx="472.84" cy="269.03" r="1.65" fill="none" stroke="#ececec" stroke-width="0.7" stroke-dasharray="1.4 1.2" stroke-dashoffset="2" stroke-opacity="0.8"/><circle cx="480.24" cy="267.69" r="2.45" fill="#d0d0d0" fill-opacity="0.25" stroke="#e0622a" stroke-width="1.25"/><circle cx="480.24" cy="267.69" r="1.65" fill="none" stroke="#d0d0d0" stroke-width="0.7" stroke-dasharray="1.4 1.2" stroke-dashoffset="0" stroke-opacity="0.8"/><circle cx="449.29" cy="272.40" r="2.45" fill="#ececec" fill-opacity="0.25" stroke="#f08a30" stroke-width="1.25"/><circle cx="449.29" cy="272.40" r="1.65" fill="none" stroke="#ececec" stroke-width="0.7" stroke-dasharray="1.4 1.2" stroke-dashoffset="1" stroke-opacity="0.8"/><circle cx="456.69" cy="275.76" r="2.15" fill="#a8a8a8" fill-opacity="0.25" stroke="#ac461c" stroke-width="1.25"/><circle cx="456.69" cy="275.76" r="1.35" fill="none" stroke="#a8a8a8" stroke-width="0.7" stroke-dasharray="1.4 1.2" stroke-dashoffset="2" stroke-opacity="0.8"/><circle cx="465.44" cy="275.76" r="2.15" fill="#787878" fill-opacity="0.25" stroke="#58260e" stroke-width="1.25"/><circle cx="465.44" cy="275.76" r="1.35" fill="none" stroke="#787878" stroke-width="0.7" stroke-dasharray="1.4 1.2" stroke-dashoffset="0" stroke-opacity="0.8"/><circle cx="485.63" cy="275.76" r="2.45" fill="#ececec" fill-opacity="0.25" stroke="#f08a30" stroke-width="1.25"/><circle cx="485.63" cy="275.76" r="1.65" fill="none" stroke="#ececec" stroke-width="0.7" stroke-dasharray="1.4 1.2" stroke-dashoffset="1" stroke-opacity="0.8"/><circle cx="491.01" cy="275.09" r="2.45" fill="#ececec" fill-opacity="0.25" stroke="#f08a30" stroke-width="1.25"/><circle cx="491.01" cy="275.09" r="1.65" fill="none" stroke="#ececec" stroke-width="0.7" stroke-dasharray="1.4 1.2" stroke-dashoffset="2" stroke-opacity="0.8"/><circle cx="502.45" cy="275.76" r="2.45" fill="#d0d0d0" fill-opacity="0.25" stroke="#e0622a" stroke-width="1.25"/><circle cx="502.45" cy="275.76" r="1.65" fill="none" stroke="#d0d0d0" stroke-width="0.7" stroke-dasharray="1.4 1.2" stroke-dashoffset="0" stroke-opacity="0.8"/><circle cx="496.39" cy="277.11" r="2.15" fill="#787878" fill-opacity="0.25" stroke="#58260e" stroke-width="1.25"/><circle cx="496.39" cy="277.11" r="1.35" fill="none" stroke="#787878" stroke-width="0.7" stroke-dasharray="1.4 1.2" stroke-dashoffset="1" stroke-opacity="0.8"/><circle cx="440.54" cy="269.03" r="2.15" fill="#787878" fill-opacity="0.25" stroke="#58260e" stroke-width="1.25"/><circle cx="440.54" cy="269.03" r="1.35" fill="none" stroke="#787878" stroke-width="0.7" stroke-dasharray="1.4 1.2" stroke-dashoffset="2" stroke-opacity="0.8"/><circle cx="445.25" cy="283.16" r="2.45" fill="#d0d0d0" fill-opacity="0.25" stroke="#e0622a" stroke-width="1.25"/><circle cx="445.25" cy="283.16" r="1.65" fill="none" stroke="#d0d0d0" stroke-width="0.7" stroke-dasharray="1.4 1.2" stroke-dashoffset="0" stroke-opacity="0.8"/><circle cx="454.00" cy="285.18" r="2.15" fill="#a8a8a8" fill-opacity="0.25" stroke="#ac461c" stroke-width="1.25"/><circle cx="454.00" cy="285.18" r="1.35" fill="none" stroke="#a8a8a8" stroke-width="0.7" stroke-dasharray="1.4 1.2" stroke-dashoffset="1" stroke-opacity="0.8"/><circle cx="440.54" cy="289.22" r="2.15" fill="#a8a8a8" fill-opacity="0.25" stroke="#ac461c" stroke-width="1.25"/><circle cx="440.54" cy="289.22" r="1.35" fill="none" stroke="#a8a8a8" stroke-width="0.7" stroke-dasharray="1.4 1.2" stroke-dashoffset="2" stroke-opacity="0.8"/><circle cx="455.34" cy="294.60" r="2.15" fill="#a8a8a8" fill-opacity="0.25" stroke="#ac461c" stroke-width="1.25"/><circle cx="455.34" cy="294.60" r="1.35" fill="none" stroke="#a8a8a8" stroke-width="0.7" stroke-dasharray="1.4 1.2" stroke-dashoffset="0" stroke-opacity="0.8"/><circle cx="462.74" cy="295.28" r="2.15" fill="#a8a8a8" fill-opacity="0.25" stroke="#ac461c" stroke-width="1.25"/><circle cx="462.74" cy="295.28" r="1.35" fill="none" stroke="#a8a8a8" stroke-width="0.7" stroke-dasharray="1.4 1.2" stroke-dashoffset="1" stroke-opacity="0.8"/><circle cx="472.84" cy="292.58" r="2.45" fill="#d0d0d0" fill-opacity="0.25" stroke="#e0622a" stroke-width="1.25"/><circle cx="472.84" cy="292.58" r="1.65" fill="none" stroke="#d0d0d0" stroke-width="0.7" stroke-dasharray="1.4 1.2" stroke-dashoffset="2" stroke-opacity="0.8"/><circle cx="482.26" cy="287.87" r="2.15" fill="#a8a8a8" fill-opacity="0.25" stroke="#ac461c" stroke-width="1.25"/><circle cx="482.26" cy="287.87" r="1.35" fill="none" stroke="#a8a8a8" stroke-width="0.7" stroke-dasharray="1.4 1.2" stroke-dashoffset="0" stroke-opacity="0.8"/><circle cx="486.30" cy="292.58" r="2.15" fill="#a8a8a8" fill-opacity="0.25" stroke="#ac461c" stroke-width="1.25"/><circle cx="486.30" cy="292.58" r="1.35" fill="none" stroke="#a8a8a8" stroke-width="0.7" stroke-dasharray="1.4 1.2" stroke-dashoffset="1" stroke-opacity="0.8"/><circle cx="491.68" cy="289.89" r="2.45" fill="#d0d0d0" fill-opacity="0.25" stroke="#e0622a" stroke-width="1.25"/><circle cx="491.68" cy="289.89" r="1.65" fill="none" stroke="#d0d0d0" stroke-width="0.7" stroke-dasharray="1.4 1.2" stroke-dashoffset="2" stroke-opacity="0.8"/><circle cx="500.43" cy="293.93" r="2.45" fill="#d0d0d0" fill-opacity="0.25" stroke="#e0622a" stroke-width="1.25"/><circle cx="500.43" cy="293.93" r="1.65" fill="none" stroke="#d0d0d0" stroke-width="0.7" stroke-dasharray="1.4 1.2" stroke-dashoffset="0" stroke-opacity="0.8"/><circle cx="467.46" cy="297.29" r="2.15" fill="#787878" fill-opacity="0.25" stroke="#58260e" stroke-width="1.25"/><circle cx="467.46" cy="297.29" r="1.35" fill="none" stroke="#787878" stroke-width="0.7" stroke-dasharray="1.4 1.2" stroke-dashoffset="1" stroke-opacity="0.8"/><circle cx="479.57" cy="294.60" r="2.15" fill="#787878" fill-opacity="0.25" stroke="#58260e" stroke-width="1.25"/><circle cx="479.57" cy="294.60" r="1.35" fill="none" stroke="#787878" stroke-width="0.7" stroke-dasharray="1.4 1.2" stroke-dashoffset="2" stroke-opacity="0.8"/><circle cx="449.96" cy="293.93" r="2.15" fill="#787878" fill-opacity="0.25" stroke="#58260e" stroke-width="1.25"/><circle cx="449.96" cy="293.93" r="1.35" fill="none" stroke="#787878" stroke-width="0.7" stroke-dasharray="1.4 1.2" stroke-dashoffset="0" stroke-opacity="0.8"/><circle cx="490.34" cy="266.34" r="2.15" fill="#787878" fill-opacity="0.25" stroke="#58260e" stroke-width="1.25"/><circle cx="490.34" cy="266.34" r="1.35" fill="none" stroke="#787878" stroke-width="0.7" stroke-dasharray="1.4 1.2" stroke-dashoffset="1" stroke-opacity="0.8"/></g></g>
<text x="502.30" y="219.40" font-size="8.6" text-anchor="end" fill="#fff" textLength="24.6" lengthAdjust="spacingAndGlyphs" stroke="#fff" stroke-width="0.1" >10 &#181;m</text>
<rect x="487.00" y="224.00" width="14.00" height="2.10" fill="#fff" />
<text x="502.30" y="290.60" font-size="8.6" text-anchor="end" fill="#fff" textLength="24.6" lengthAdjust="spacingAndGlyphs" stroke="#fff" stroke-width="0.1" >10 &#181;m</text>
<rect x="487.00" y="295.20" width="14.00" height="2.10" fill="#fff" />
<text x="8.23" y="321.50" font-size="12.0" text-anchor="start" fill="#000" font-weight="bold" textLength="7.2" lengthAdjust="spacingAndGlyphs" stroke="#000" stroke-width="0.3" >E</text>
<text x="146.50" y="323.40" font-size="10.8" text-anchor="start" fill="#231f20" textLength="21.9" lengthAdjust="spacingAndGlyphs" stroke="#231f20" stroke-width="0.05" >H-2D1</text>
<polygon points="39.60,411.50 40.50,407.30 41.30,411.50" fill="#c72336" />
<polygon points="52.70,411.50 53.20,407.30 54.00,411.50" fill="#c72336" />
<polygon points="55.80,411.50 56.50,400.00 57.50,390.20 58.50,398.00 59.80,408.50 61.50,411.50" fill="#c72336" />
<polygon points="62.70,411.50 64.50,409.00 66.20,407.30 67.80,402.00 68.70,396.70 69.40,411.50" fill="#c72336" />
<polygon points="80.20,411.50 80.50,394.60 81.50,389.80 82.90,393.50 84.80,411.50" fill="#c72336" />
<polygon points="87.10,411.50 88.70,403.80 91.30,409.60 94.50,399.80 96.50,411.50" fill="#c72336" />
<polygon points="198.50,411.50 199.70,409.80 200.80,411.50" fill="#c72336" />
<polygon points="209.40,411.50 210.50,406.70 212.90,405.00 213.20,411.50" fill="#c72336" />
<polygon points="220.60,411.50 221.50,395.00 222.50,382.80 223.50,392.00 224.40,401.50 225.60,406.20 227.50,411.50" fill="#c72336" />
<polygon points="238.10,411.50 239.50,400.00 240.20,398.70 240.60,411.50" fill="#c72336" />
<polygon points="250.20,411.50 250.30,395.80 252.50,373.30 253.10,373.50 253.10,411.50" fill="#c72336" />
<polygon points="260.90,411.50 261.10,372.00 261.60,370.40 263.50,392.30 264.60,407.30 266.30,406.20 267.50,401.00 268.70,398.70 269.80,400.40 272.10,410.20 274.00,404.00 275.60,401.50 277.30,409.00 279.00,404.00 280.80,401.00 283.10,409.60 284.50,411.50 286.00,408.50 287.10,411.50" fill="#c72336" />
<polygon points="291.60,411.50 293.00,409.70 295.00,411.50" fill="#c72336" />
<polygon points="56.30,368.90 57.70,367.00 59.20,368.90" fill="#c72336" />
<polygon points="68.00,368.90 68.60,368.00 69.20,368.90" fill="#c72336" />
<polygon points="80.40,368.90 82.00,367.50 83.80,368.90" fill="#c72336" />
<polygon points="93.70,368.90 94.50,367.90 95.40,368.90" fill="#c72336" />
<polygon points="210.00,368.90 210.30,368.00 210.70,368.90" fill="#c72336" />
<polygon points="221.00,368.90 222.30,366.30 223.80,368.90" fill="#c72336" />
<polygon points="250.80,368.90 252.40,365.80 253.00,368.90" fill="#c72336" />
<polygon points="260.60,368.90 261.50,365.80 263.50,368.90" fill="#c72336" />
<polygon points="267.00,368.90 268.50,368.00 269.80,368.90" fill="#c72336" />
<polygon points="275.00,368.90 276.00,368.00 277.00,368.90" fill="#c72336" />
<polygon points="280.00,368.90 281.00,368.30 282.00,368.90" fill="#c72336" />
<rect x="20.3" y="326.5" width="286.3" height="90.39999999999998" fill="none" stroke="#111" stroke-width="1.15"/>
<line x1="20.3" y1="368.9" x2="306.6" y2="368.9" stroke="#555" stroke-width="1.5"/>
<line x1="20.3" y1="411.5" x2="306.6" y2="411.5" stroke="#111" stroke-width="1.0"/>
<text x="17.60" y="361.00" font-size="11" text-anchor="start" fill="#231f20" textLength="20.2" lengthAdjust="spacingAndGlyphs" transform="rotate(-90 17.60 361.00)" >Sham</text>
<text x="17.60" y="397.80" font-size="11" text-anchor="start" fill="#231f20" textLength="13.3" lengthAdjust="spacingAndGlyphs" transform="rotate(-90 17.60 397.80)" >CLP</text>
<line x1="38" y1="422.8" x2="298.5" y2="422.8" stroke="#1b5a8c" stroke-width="0.9"/>
<line x1="44" y1="421.6" x2="44" y2="424.0" stroke="#1b5a8c" stroke-width="0.6"/>
<line x1="48" y1="421.6" x2="48" y2="424.0" stroke="#1b5a8c" stroke-width="0.6"/>
<line x1="52" y1="421.6" x2="52" y2="424.0" stroke="#1b5a8c" stroke-width="0.6"/>
<line x1="72" y1="421.6" x2="72" y2="424.0" stroke="#1b5a8c" stroke-width="0.6"/>
<line x1="76" y1="421.6" x2="76" y2="424.0" stroke="#1b5a8c" stroke-width="0.6"/>
<line x1="100" y1="421.6" x2="100" y2="424.0" stroke="#1b5a8c" stroke-width="0.6"/>
<line x1="106" y1="421.6" x2="106" y2="424.0" stroke="#1b5a8c" stroke-width="0.6"/>
<line x1="112" y1="421.6" x2="112" y2="424.0" stroke="#1b5a8c" stroke-width="0.6"/>
<line x1="118" y1="421.6" x2="118" y2="424.0" stroke="#1b5a8c" stroke-width="0.6"/>
<line x1="124" y1="421.6" x2="124" y2="424.0" stroke="#1b5a8c" stroke-width="0.6"/>
<line x1="130" y1="421.6" x2="130" y2="424.0" stroke="#1b5a8c" stroke-width="0.6"/>
<line x1="136" y1="421.6" x2="136" y2="424.0" stroke="#1b5a8c" stroke-width="0.6"/>
<line x1="142" y1="421.6" x2="142" y2="424.0" stroke="#1b5a8c" stroke-width="0.6"/>
<line x1="148" y1="421.6" x2="148" y2="424.0" stroke="#1b5a8c" stroke-width="0.6"/>
<line x1="154" y1="421.6" x2="154" y2="424.0" stroke="#1b5a8c" stroke-width="0.6"/>
<line x1="160" y1="421.6" x2="160" y2="424.0" stroke="#1b5a8c" stroke-width="0.6"/>
<line x1="166" y1="421.6" x2="166" y2="424.0" stroke="#1b5a8c" stroke-width="0.6"/>
<line x1="172" y1="421.6" x2="172" y2="424.0" stroke="#1b5a8c" stroke-width="0.6"/>
<line x1="178" y1="421.6" x2="178" y2="424.0" stroke="#1b5a8c" stroke-width="0.6"/>
<line x1="184" y1="421.6" x2="184" y2="424.0" stroke="#1b5a8c" stroke-width="0.6"/>
<line x1="190" y1="421.6" x2="190" y2="424.0" stroke="#1b5a8c" stroke-width="0.6"/>
<line x1="216" y1="421.6" x2="216" y2="424.0" stroke="#1b5a8c" stroke-width="0.6"/>
<line x1="231" y1="421.6" x2="231" y2="424.0" stroke="#1b5a8c" stroke-width="0.6"/>
<line x1="245" y1="421.6" x2="245" y2="424.0" stroke="#1b5a8c" stroke-width="0.6"/>
<line x1="256" y1="421.6" x2="256" y2="424.0" stroke="#1b5a8c" stroke-width="0.6"/>
<rect x="35.8" y="420.2" width="5.7" height="5.2" rx="1.5" fill="#1b5a8c"/>
<rect x="39.00" y="420.20" width="2.50" height="5.20" fill="#1b5a8c" />
<rect x="53.00" y="420.10" width="15.00" height="5.40" fill="#1b5a8c" />
<rect x="80.60" y="420.10" width="15.40" height="5.40" fill="#1b5a8c" />
<rect x="196.90" y="420.10" width="15.50" height="5.40" fill="#1b5a8c" />
<rect x="221.20" y="420.10" width="5.70" height="5.40" fill="#1b5a8c" />
<rect x="238.40" y="420.10" width="1.20" height="5.40" fill="#1b5a8c" />
<rect x="250.70" y="420.10" width="1.20" height="5.40" fill="#1b5a8c" />
<rect x="261.50" y="421.30" width="37.00" height="3.00" fill="#1b5a8c" />
<rect x="57.00" y="422.20" width="1.00" height="1.20" fill="#fff" />
<rect x="64.20" y="422.20" width="1.00" height="1.20" fill="#fff" />
<rect x="84.72" y="422.20" width="1.00" height="1.20" fill="#fff" />
<rect x="92.11" y="422.20" width="1.00" height="1.20" fill="#fff" />
<rect x="201.05" y="422.20" width="1.00" height="1.20" fill="#fff" />
<rect x="208.49" y="422.20" width="1.00" height="1.20" fill="#fff" />
<text x="24.40" y="427.10" font-size="9.4" text-anchor="start" fill="#231f20" textLength="7.1" lengthAdjust="spacingAndGlyphs" stroke="#231f20" stroke-width="0.05" >5&#8242;</text>
<text x="301.00" y="427.10" font-size="9.4" text-anchor="start" fill="#231f20" textLength="7.5" lengthAdjust="spacingAndGlyphs" stroke="#231f20" stroke-width="0.05" >3&#8242;</text>
<line x1="346.5" y1="332.7" x2="346.5" y2="413.5" stroke="#111" stroke-width="1.2"/>
<line x1="343.6" y1="332.7" x2="346.5" y2="332.7" stroke="#111" stroke-width="1.0"/>
<text x="342.60" y="335.00" font-size="10.0" text-anchor="end" fill="#231f20" textLength="16.68" lengthAdjust="spacingAndGlyphs" stroke="#231f20" stroke-width="0.15" >600</text>
<line x1="343.6" y1="360.0" x2="346.5" y2="360.0" stroke="#111" stroke-width="1.0"/>
<text x="342.60" y="362.30" font-size="10.0" text-anchor="end" fill="#231f20" textLength="16.68" lengthAdjust="spacingAndGlyphs" stroke="#231f20" stroke-width="0.15" >400</text>
<line x1="343.6" y1="386.8" x2="346.5" y2="386.8" stroke="#111" stroke-width="1.0"/>
<text x="342.60" y="389.10" font-size="10.0" text-anchor="end" fill="#231f20" textLength="16.68" lengthAdjust="spacingAndGlyphs" stroke="#231f20" stroke-width="0.15" >200</text>
<text x="342.00" y="415.90" font-size="10.0" text-anchor="end" fill="#231f20" textLength="5.56" lengthAdjust="spacingAndGlyphs" stroke="#231f20" stroke-width="0.15" >0</text>
<rect x="352.50" y="382.20" width="13.80" height="31.30" fill="#c72336" />
<line x1="359.2" y1="382.2" x2="359.2" y2="368.8" stroke="#2a2a2a" stroke-width="1.1"/>
<line x1="355.2" y1="368.8" x2="363.2" y2="368.8" stroke="#2a2a2a" stroke-width="1.2"/>
<rect x="369.50" y="345.20" width="14.10" height="68.30" fill="#0a5287" />
<line x1="376.45" y1="345.2" x2="376.45" y2="341.0" stroke="#2a2a2a" stroke-width="1.1"/>
<line x1="372.5" y1="341.0" x2="380.4" y2="341.0" stroke="#2a2a2a" stroke-width="1.2"/>
<line x1="343.8" y1="413.5" x2="385.0" y2="413.5" stroke="#111" stroke-width="1.4"/>
<polyline points="355.6,330.7 355.6,327.4 378.0,327.4 378.0,330.7" fill="none" stroke="#222" stroke-width="1.1"/>
<text x="345.80" y="320.40" font-size="10.8" text-anchor="start" fill="#231f20" textLength="4.6" lengthAdjust="spacingAndGlyphs" stroke="#231f20" stroke-width="0.02" >P</text>
<text x="350.60" y="323.40" font-size="5.4" text-anchor="start" fill="#231f20" textLength="9.4" lengthAdjust="spacingAndGlyphs" stroke="#231f20" stroke-width="0.02" >nom</text>
<text x="360.80" y="320.40" font-size="10.8" text-anchor="start" fill="#231f20" textLength="22.6" lengthAdjust="spacingAndGlyphs" stroke="#231f20" stroke-width="0.02" >=0.08</text>
<text x="320.00" y="417.10" font-size="8.7" text-anchor="start" fill="#231f20" textLength="86.9" lengthAdjust="spacingAndGlyphs" transform="rotate(-90 320.00 417.10)" stroke="#231f20" stroke-width="0.2" >Total H-2D1 RNA (FPKM)</text>
<text x="344.30" y="436.70" font-size="10.0" text-anchor="start" fill="#231f20" transform="rotate(-40 344.30 436.70)" stroke="#231f20" stroke-width="0.15" >Sham</text>
<text x="368.10" y="435.10" font-size="10.0" text-anchor="start" fill="#231f20" transform="rotate(-40 368.10 435.10)" stroke="#231f20" stroke-width="0.15" >CLP</text>
<text x="7.35" y="456.80" font-size="12.0" text-anchor="start" fill="#000" font-weight="bold" textLength="6.82" lengthAdjust="spacingAndGlyphs" stroke="#000" stroke-width="0.3" >F</text>
<line x1="52.2" y1="468.2" x2="52.2" y2="549.3" stroke="#111" stroke-width="1.2"/>
<line x1="49.3" y1="475.6" x2="52.2" y2="475.6" stroke="#111" stroke-width="1.0"/>
<text x="48.00" y="477.95" font-size="9.6" text-anchor="end" fill="#231f20" textLength="14.1" lengthAdjust="spacingAndGlyphs" stroke="#231f20" stroke-width="0.15" >120</text>
<line x1="49.3" y1="487.4" x2="52.2" y2="487.4" stroke="#111" stroke-width="1.0"/>
<text x="48.00" y="489.75" font-size="9.6" text-anchor="end" fill="#231f20" textLength="14.1" lengthAdjust="spacingAndGlyphs" stroke="#231f20" stroke-width="0.15" >100</text>
<line x1="49.3" y1="499.8" x2="52.2" y2="499.8" stroke="#111" stroke-width="1.0"/>
<text x="48.00" y="502.15" font-size="9.6" text-anchor="end" fill="#231f20" textLength="9.4" lengthAdjust="spacingAndGlyphs" stroke="#231f20" stroke-width="0.15" >80</text>
<line x1="49.3" y1="512.2" x2="52.2" y2="512.2" stroke="#111" stroke-width="1.0"/>
<text x="48.00" y="514.55" font-size="9.6" text-anchor="end" fill="#231f20" textLength="9.4" lengthAdjust="spacingAndGlyphs" stroke="#231f20" stroke-width="0.15" >60</text>
<line x1="49.3" y1="524.4" x2="52.2" y2="524.4" stroke="#111" stroke-width="1.0"/>
<text x="48.00" y="526.75" font-size="9.6" text-anchor="end" fill="#231f20" textLength="9.4" lengthAdjust="spacingAndGlyphs" stroke="#231f20" stroke-width="0.15" >40</text>
<line x1="49.3" y1="536.9" x2="52.2" y2="536.9" stroke="#111" stroke-width="1.0"/>
<text x="48.00" y="539.25" font-size="9.6" text-anchor="end" fill="#231f20" textLength="9.4" lengthAdjust="spacingAndGlyphs" stroke="#231f20" stroke-width="0.15" >20</text>
<text x="47.70" y="552.70" font-size="9.6" text-anchor="end" fill="#231f20" textLength="4.7" lengthAdjust="spacingAndGlyphs" stroke="#231f20" stroke-width="0.15" >0</text>
<rect x="56.20" y="508.10" width="14.00" height="41.20" fill="#c72336" />
<line x1="63.25" y1="508.1" x2="63.25" y2="504.2" stroke="#2a2a2a" stroke-width="1.1"/>
<line x1="59.2" y1="504.2" x2="67.3" y2="504.2" stroke="#2a2a2a" stroke-width="1.2"/>
<rect x="74.00" y="491.50" width="13.90" height="57.80" fill="#0a5287" />
<line x1="80.55" y1="491.5" x2="80.55" y2="486.0" stroke="#2a2a2a" stroke-width="1.1"/>
<line x1="76.5" y1="486.0" x2="84.6" y2="486.0" stroke="#2a2a2a" stroke-width="1.2"/>
<line x1="49.5" y1="549.3" x2="90.5" y2="549.3" stroke="#111" stroke-width="1.4"/>
<polyline points="60.2,466.2 60.2,462.9 82.7,462.9 82.7,466.2" fill="none" stroke="#222" stroke-width="1.1"/>
<text x="71.30" y="461.32" font-size="9.0" text-anchor="middle" fill="#111" >*</text>
<text x="27.40" y="525.30" font-size="8.7" text-anchor="start" fill="#231f20" textLength="39.3" lengthAdjust="spacingAndGlyphs" transform="rotate(-90 27.40 525.30)" stroke="#231f20" stroke-width="0.2" >H-2D (MFI)</text>
<text x="50.30" y="572.10" font-size="10.0" text-anchor="start" fill="#231f20" transform="rotate(-40 50.30 572.10)" stroke="#231f20" stroke-width="0.15" >Sham</text>
<text x="74.50" y="570.80" font-size="10.0" text-anchor="start" fill="#231f20" transform="rotate(-40 74.50 570.80)" stroke="#231f20" stroke-width="0.15" >CLP</text>
<text x="103.97" y="457.00" font-size="12.0" text-anchor="start" fill="#000" font-weight="bold" textLength="9.99" lengthAdjust="spacingAndGlyphs" stroke="#000" stroke-width="0.3" >G</text>
<line x1="144.5" y1="469.0" x2="144.5" y2="549.8" stroke="#111" stroke-width="1.2"/>
<line x1="142.0" y1="480.6" x2="144.5" y2="480.6" stroke="#111" stroke-width="1.0"/>
<text x="140.90" y="483.20" font-size="9.9" text-anchor="end" fill="#231f20" textLength="16.19" lengthAdjust="spacingAndGlyphs" stroke="#231f20" stroke-width="0.15" >300</text>
<line x1="142.0" y1="503.7" x2="144.5" y2="503.7" stroke="#111" stroke-width="1.0"/>
<text x="140.90" y="506.30" font-size="9.9" text-anchor="end" fill="#231f20" textLength="16.19" lengthAdjust="spacingAndGlyphs" stroke="#231f20" stroke-width="0.15" >200</text>
<line x1="142.0" y1="526.7" x2="144.5" y2="526.7" stroke="#111" stroke-width="1.0"/>
<text x="140.90" y="529.30" font-size="9.9" text-anchor="end" fill="#231f20" textLength="16.19" lengthAdjust="spacingAndGlyphs" stroke="#231f20" stroke-width="0.15" >100</text>
<text x="140.10" y="551.60" font-size="9.9" text-anchor="end" fill="#231f20" textLength="5.4" lengthAdjust="spacingAndGlyphs" stroke="#231f20" stroke-width="0.15" >0</text>
<rect x="149.00" y="488.80" width="14.10" height="61.00" fill="#c72336" />
<line x1="155.75" y1="488.8" x2="155.75" y2="487.3" stroke="#2a2a2a" stroke-width="1.1"/>
<line x1="151.9" y1="487.3" x2="159.6" y2="487.3" stroke="#2a2a2a" stroke-width="1.2"/>
<rect x="166.90" y="479.60" width="13.90" height="70.20" fill="#0a5287" />
<line x1="173.75" y1="479.6" x2="173.75" y2="476.7" stroke="#2a2a2a" stroke-width="1.1"/>
<line x1="169.6" y1="476.7" x2="177.9" y2="476.7" stroke="#2a2a2a" stroke-width="1.2"/>
<line x1="141.9" y1="549.8" x2="182.6" y2="549.8" stroke="#111" stroke-width="1.4"/>
<polyline points="152.3,467.3 152.3,463.8 174.5,463.8 174.5,467.3" fill="none" stroke="#222" stroke-width="1.1"/>
<text x="163.50" y="462.83" font-size="9.8" text-anchor="middle" fill="#111" >*</text>
<text x="119.30" y="540.70" font-size="8.7" text-anchor="start" fill="#231f20" textLength="60.9" lengthAdjust="spacingAndGlyphs" transform="rotate(-90 119.30 540.70)" stroke="#231f20" stroke-width="0.1" >SIIN:H-2K<tspan font-size="5.2" dy="-3">b</tspan><tspan dy="3"> (MFI)</tspan></text>
<text x="143.60" y="573.50" font-size="10.0" text-anchor="start" fill="#231f20" transform="rotate(-40 143.60 573.50)" stroke="#231f20" stroke-width="0.15" >Sham</text>
<text x="167.10" y="572.10" font-size="10.0" text-anchor="start" fill="#231f20" transform="rotate(-40 167.10 572.10)" stroke="#231f20" stroke-width="0.15" >CLP</text>
<rect x="0.00" y="0.00" width="520.00" height="1.10" fill="#000" />
<rect x="0.00" y="0.00" width="1.10" height="581.00" fill="#000" />
<rect x="518.90" y="0.00" width="1.10" height="581.00" fill="#000" />
<rect x="0.00" y="579.60" width="520.00" height="1.40" fill="#000" />
</svg></body></html>
